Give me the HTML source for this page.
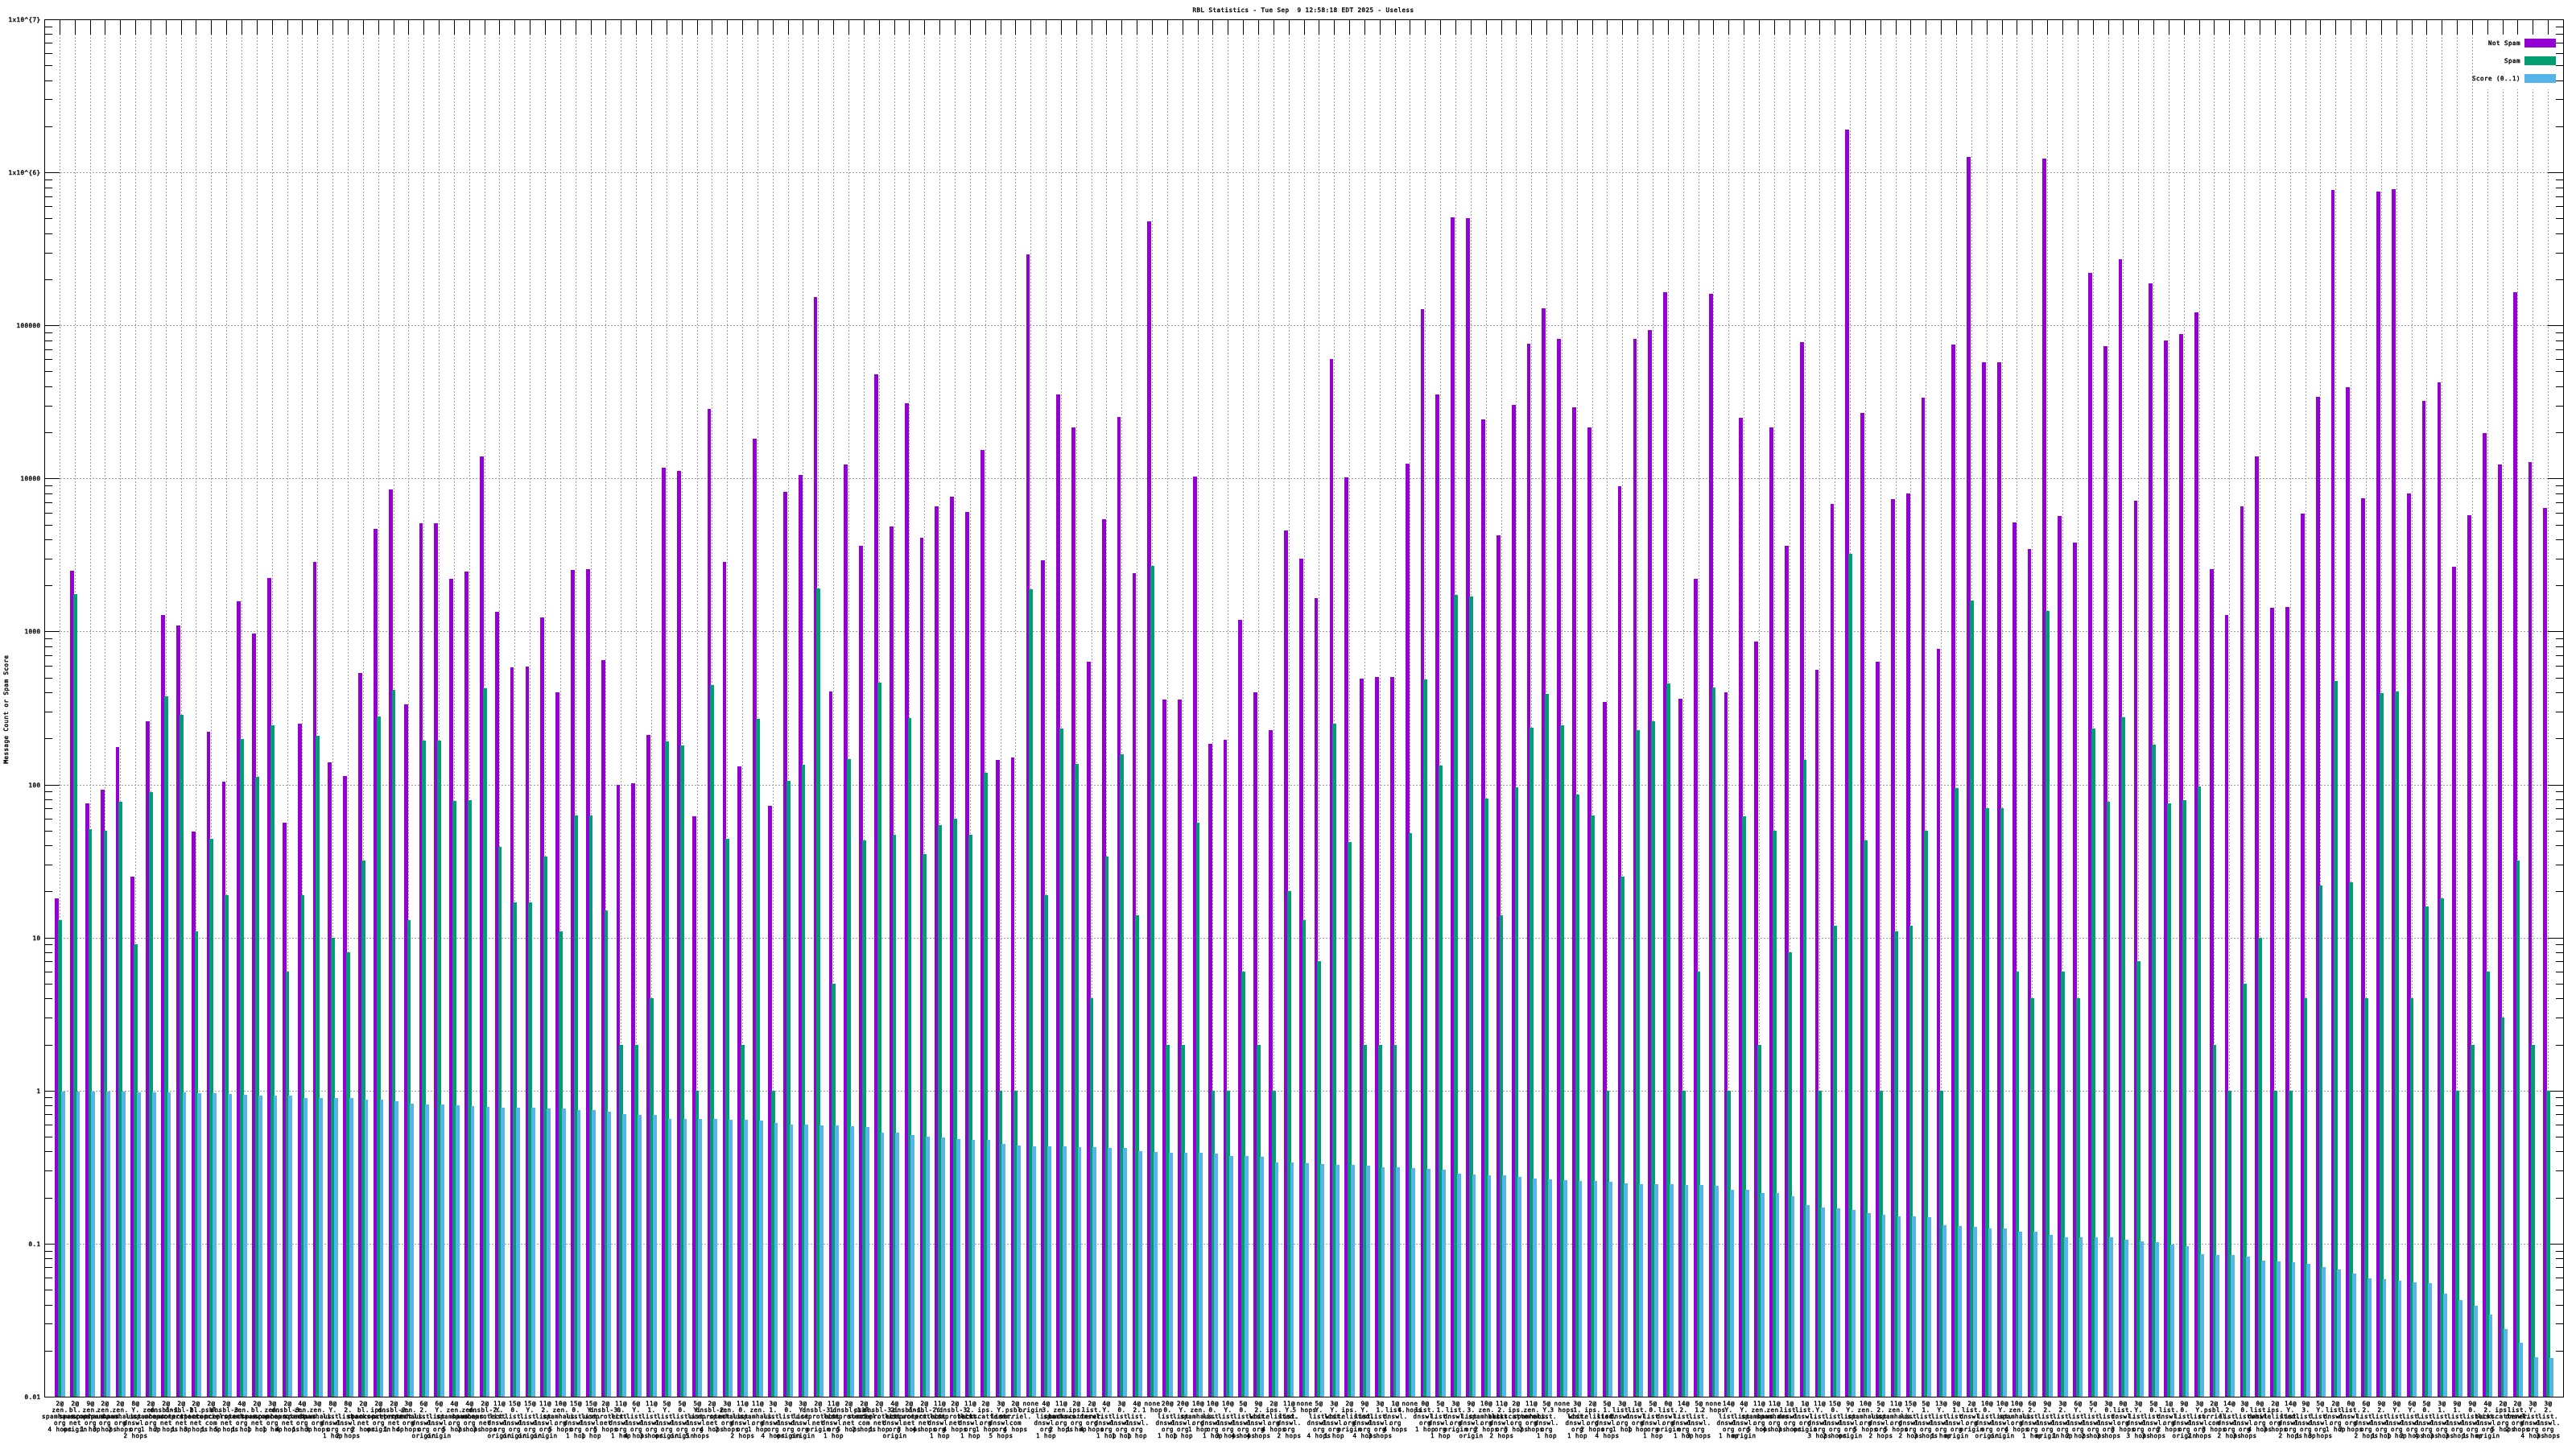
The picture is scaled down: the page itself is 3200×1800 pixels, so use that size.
<!DOCTYPE html><html><head><meta charset="utf-8"><title>RBL Statistics</title>
<style>html,body{margin:0;padding:0;background:#fff}svg{display:block;will-change:transform}text{font-family:"DejaVu Sans Mono","Liberation Mono",monospace;font-size:7.5px;letter-spacing:.485px;fill:#000;stroke:#000;stroke-width:.4px}.g{stroke:#a0a0a0;stroke-width:1;stroke-dasharray:2 2;fill:none}.t{stroke:#000;stroke-width:1;fill:none}</style></head><body>
<svg width="3200" height="1800" viewBox="0 0 3200 1800" shape-rendering="crispEdges">
<rect width="3200" height="1800" fill="#fff"/>
<path class="g" d="M74.5 1736 V43 M93.5 1736 V43 M112.5 1736 V43 M130.5 1736 V43 M149.5 1736 V43 M168.5 1736 V43 M187.5 1736 V43 M206.5 1736 V43 M225.5 1736 V43 M243.5 1736 V43 M262.5 1736 V43 M281.5 1736 V43 M300.5 1736 V43 M319.5 1736 V43 M338.5 1736 V43 M357.5 1736 V43 M375.5 1736 V43 M394.5 1736 V43 M413.5 1736 V43 M432.5 1736 V43 M451.5 1736 V43 M470.5 1736 V43 M489.5 1736 V43 M507.5 1736 V43 M526.5 1736 V43 M545.5 1736 V43 M564.5 1736 V43 M583.5 1736 V43 M602.5 1736 V43 M620.5 1736 V43 M639.5 1736 V43 M658.5 1736 V43 M677.5 1736 V43 M696.5 1736 V43 M715.5 1736 V43 M734.5 1736 V43 M752.5 1736 V43 M771.5 1736 V43 M790.5 1736 V43 M809.5 1736 V43 M828.5 1736 V43 M847.5 1736 V43 M866.5 1736 V43 M884.5 1736 V43 M903.5 1736 V43 M922.5 1736 V43 M941.5 1736 V43 M960.5 1736 V43 M979.5 1736 V43 M997.5 1736 V43 M1016.5 1736 V43 M1035.5 1736 V43 M1054.5 1736 V43 M1073.5 1736 V43 M1092.5 1736 V43 M1111.5 1736 V43 M1129.5 1736 V43 M1148.5 1736 V43 M1167.5 1736 V43 M1186.5 1736 V43 M1205.5 1736 V43 M1224.5 1736 V43 M1243.5 1736 V43 M1261.5 1736 V43 M1280.5 1736 V43 M1299.5 1736 V43 M1318.5 1736 V43 M1337.5 1736 V43 M1356.5 1736 V43 M1374.5 1736 V43 M1393.5 1736 V43 M1412.5 1736 V43 M1431.5 1736 V43 M1450.5 1736 V43 M1469.5 1736 V43 M1488.5 1736 V43 M1506.5 1736 V43 M1525.5 1736 V43 M1544.5 1736 V43 M1563.5 1736 V43 M1582.5 1736 V43 M1601.5 1736 V43 M1620.5 1736 V43 M1638.5 1736 V43 M1657.5 1736 V43 M1676.5 1736 V43 M1695.5 1736 V43 M1714.5 1736 V43 M1733.5 1736 V43 M1751.5 1736 V43 M1770.5 1736 V43 M1789.5 1736 V43 M1808.5 1736 V43 M1827.5 1736 V43 M1846.5 1736 V43 M1865.5 1736 V43 M1883.5 1736 V43 M1902.5 1736 V43 M1921.5 1736 V43 M1940.5 1736 V43 M1959.5 1736 V43 M1978.5 1736 V43 M1996.5 1736 V43 M2015.5 1736 V43 M2034.5 1736 V43 M2053.5 1736 V43 M2072.5 1736 V43 M2091.5 1736 V43 M2110.5 1736 V43 M2128.5 1736 V43 M2147.5 1736 V43 M2166.5 1736 V43 M2185.5 1736 V43 M2204.5 1736 V43 M2223.5 1736 V43 M2242.5 1736 V43 M2260.5 1736 V43 M2279.5 1736 V43 M2298.5 1736 V43 M2317.5 1736 V43 M2336.5 1736 V43 M2355.5 1736 V43 M2373.5 1736 V43 M2392.5 1736 V43 M2411.5 1736 V43 M2430.5 1736 V43 M2449.5 1736 V43 M2468.5 1736 V43 M2487.5 1736 V43 M2505.5 1736 V43 M2524.5 1736 V43 M2543.5 1736 V43 M2562.5 1736 V43 M2581.5 1736 V43 M2600.5 1736 V43 M2619.5 1736 V43 M2637.5 1736 V43 M2656.5 1736 V43 M2675.5 1736 V43 M2694.5 1736 V43 M2713.5 1736 V43 M2732.5 1736 V43 M2750.5 1736 V43 M2769.5 1736 V43 M2788.5 1736 V43 M2807.5 1736 V43 M2826.5 1736 V43 M2845.5 1736 V43 M2864.5 1736 V43 M2882.5 1736 V43 M2901.5 1736 V43 M2920.5 1736 V43 M2939.5 1736 V43 M2958.5 1736 V43 M2977.5 1736 V43 M2996.5 1736 V43 M3014.5 1736 V43 M3033.5 1736 V43 M3052.5 1736 V43 M3071.5 1736 V43 M3090.5 1736 V111 M3109.5 1736 V111 M3127.5 1736 V111 M3146.5 1736 V111 M3165.5 1736 V111"/>
<path class="g" d="M55 1545.5 H3184 M55 1355.5 H3184 M55 1165.5 H3184 M55 975.5 H3184 M55 784.5 H3184 M55 594.5 H3184 M55 404.5 H3184 M55 214.5 H3184"/>
<path class="t" d="M74.5 24 V43 M93.5 24 V43 M112.5 24 V43 M130.5 24 V43 M149.5 24 V43 M168.5 24 V43 M187.5 24 V43 M206.5 24 V43 M225.5 24 V43 M243.5 24 V43 M262.5 24 V43 M281.5 24 V43 M300.5 24 V43 M319.5 24 V43 M338.5 24 V43 M357.5 24 V43 M375.5 24 V43 M394.5 24 V43 M413.5 24 V43 M432.5 24 V43 M451.5 24 V43 M470.5 24 V43 M489.5 24 V43 M507.5 24 V43 M526.5 24 V43 M545.5 24 V43 M564.5 24 V43 M583.5 24 V43 M602.5 24 V43 M620.5 24 V43 M639.5 24 V43 M658.5 24 V43 M677.5 24 V43 M696.5 24 V43 M715.5 24 V43 M734.5 24 V43 M752.5 24 V43 M771.5 24 V43 M790.5 24 V43 M809.5 24 V43 M828.5 24 V43 M847.5 24 V43 M866.5 24 V43 M884.5 24 V43 M903.5 24 V43 M922.5 24 V43 M941.5 24 V43 M960.5 24 V43 M979.5 24 V43 M997.5 24 V43 M1016.5 24 V43 M1035.5 24 V43 M1054.5 24 V43 M1073.5 24 V43 M1092.5 24 V43 M1111.5 24 V43 M1129.5 24 V43 M1148.5 24 V43 M1167.5 24 V43 M1186.5 24 V43 M1205.5 24 V43 M1224.5 24 V43 M1243.5 24 V43 M1261.5 24 V43 M1280.5 24 V43 M1299.5 24 V43 M1318.5 24 V43 M1337.5 24 V43 M1356.5 24 V43 M1374.5 24 V43 M1393.5 24 V43 M1412.5 24 V43 M1431.5 24 V43 M1450.5 24 V43 M1469.5 24 V43 M1488.5 24 V43 M1506.5 24 V43 M1525.5 24 V43 M1544.5 24 V43 M1563.5 24 V43 M1582.5 24 V43 M1601.5 24 V43 M1620.5 24 V43 M1638.5 24 V43 M1657.5 24 V43 M1676.5 24 V43 M1695.5 24 V43 M1714.5 24 V43 M1733.5 24 V43 M1751.5 24 V43 M1770.5 24 V43 M1789.5 24 V43 M1808.5 24 V43 M1827.5 24 V43 M1846.5 24 V43 M1865.5 24 V43 M1883.5 24 V43 M1902.5 24 V43 M1921.5 24 V43 M1940.5 24 V43 M1959.5 24 V43 M1978.5 24 V43 M1996.5 24 V43 M2015.5 24 V43 M2034.5 24 V43 M2053.5 24 V43 M2072.5 24 V43 M2091.5 24 V43 M2110.5 24 V43 M2128.5 24 V43 M2147.5 24 V43 M2166.5 24 V43 M2185.5 24 V43 M2204.5 24 V43 M2223.5 24 V43 M2242.5 24 V43 M2260.5 24 V43 M2279.5 24 V43 M2298.5 24 V43 M2317.5 24 V43 M2336.5 24 V43 M2355.5 24 V43 M2373.5 24 V43 M2392.5 24 V43 M2411.5 24 V43 M2430.5 24 V43 M2449.5 24 V43 M2468.5 24 V43 M2487.5 24 V43 M2505.5 24 V43 M2524.5 24 V43 M2543.5 24 V43 M2562.5 24 V43 M2581.5 24 V43 M2600.5 24 V43 M2619.5 24 V43 M2637.5 24 V43 M2656.5 24 V43 M2675.5 24 V43 M2694.5 24 V43 M2713.5 24 V43 M2732.5 24 V43 M2750.5 24 V43 M2769.5 24 V43 M2788.5 24 V43 M2807.5 24 V43 M2826.5 24 V43 M2845.5 24 V43 M2864.5 24 V43 M2882.5 24 V43 M2901.5 24 V43 M2920.5 24 V43 M2939.5 24 V43 M2958.5 24 V43 M2977.5 24 V43 M2996.5 24 V43 M3014.5 24 V43 M3033.5 24 V43 M3052.5 24 V43 M3071.5 24 V43 M3090.5 24 V43 M3109.5 24 V43 M3127.5 24 V43 M3146.5 24 V43 M3165.5 24 V43 M55 1735.5 H74 M3185 1735.5 H3165 M55 1678.5 H65 M3185 1678.5 H3175 M55 1644.5 H65 M3185 1644.5 H3175 M55 1621.5 H65 M3185 1621.5 H3175 M55 1602.5 H65 M3185 1602.5 H3175 M55 1587.5 H65 M3185 1587.5 H3175 M55 1574.5 H65 M3185 1574.5 H3175 M55 1563.5 H65 M3185 1563.5 H3175 M55 1554.5 H65 M3185 1554.5 H3175 M55 1545.5 H74 M3185 1545.5 H3165 M55 1488.5 H65 M3185 1488.5 H3175 M55 1454.5 H65 M3185 1454.5 H3175 M55 1430.5 H65 M3185 1430.5 H3175 M55 1412.5 H65 M3185 1412.5 H3175 M55 1397.5 H65 M3185 1397.5 H3175 M55 1384.5 H65 M3185 1384.5 H3175 M55 1373.5 H65 M3185 1373.5 H3175 M55 1363.5 H65 M3185 1363.5 H3175 M55 1355.5 H74 M3185 1355.5 H3165 M55 1298.5 H65 M3185 1298.5 H3175 M55 1264.5 H65 M3185 1264.5 H3175 M55 1240.5 H65 M3185 1240.5 H3175 M55 1222.5 H65 M3185 1222.5 H3175 M55 1207.5 H65 M3185 1207.5 H3175 M55 1194.5 H65 M3185 1194.5 H3175 M55 1183.5 H65 M3185 1183.5 H3175 M55 1173.5 H65 M3185 1173.5 H3175 M55 1165.5 H74 M3185 1165.5 H3165 M55 1107.5 H65 M3185 1107.5 H3175 M55 1074.5 H65 M3185 1074.5 H3175 M55 1050.5 H65 M3185 1050.5 H3175 M55 1032.5 H65 M3185 1032.5 H3175 M55 1017.5 H65 M3185 1017.5 H3175 M55 1004.5 H65 M3185 1004.5 H3175 M55 993.5 H65 M3185 993.5 H3175 M55 983.5 H65 M3185 983.5 H3175 M55 975.5 H74 M3185 975.5 H3165 M55 917.5 H65 M3185 917.5 H3175 M55 884.5 H65 M3185 884.5 H3175 M55 860.5 H65 M3185 860.5 H3175 M55 842.5 H65 M3185 842.5 H3175 M55 827.5 H65 M3185 827.5 H3175 M55 814.5 H65 M3185 814.5 H3175 M55 803.5 H65 M3185 803.5 H3175 M55 793.5 H65 M3185 793.5 H3175 M55 784.5 H74 M3185 784.5 H3165 M55 727.5 H65 M3185 727.5 H3175 M55 694.5 H65 M3185 694.5 H3175 M55 670.5 H65 M3185 670.5 H3175 M55 652.5 H65 M3185 652.5 H3175 M55 637.5 H65 M3185 637.5 H3175 M55 624.5 H65 M3185 624.5 H3175 M55 613.5 H65 M3185 613.5 H3175 M55 603.5 H65 M3185 603.5 H3175 M55 594.5 H74 M3185 594.5 H3165 M55 537.5 H65 M3185 537.5 H3175 M55 504.5 H65 M3185 504.5 H3175 M55 480.5 H65 M3185 480.5 H3175 M55 461.5 H65 M3185 461.5 H3175 M55 446.5 H65 M3185 446.5 H3175 M55 434.5 H65 M3185 434.5 H3175 M55 423.5 H65 M3185 423.5 H3175 M55 413.5 H65 M3185 413.5 H3175 M55 404.5 H74 M3185 404.5 H3165 M55 347.5 H65 M3185 347.5 H3175 M55 314.5 H65 M3185 314.5 H3175 M55 290.5 H65 M3185 290.5 H3175 M55 271.5 H65 M3185 271.5 H3175 M55 256.5 H65 M3185 256.5 H3175 M55 244.5 H65 M3185 244.5 H3175 M55 233.5 H65 M3185 233.5 H3175 M55 223.5 H65 M3185 223.5 H3175 M55 214.5 H74 M3185 214.5 H3165 M55 157.5 H65 M3185 157.5 H3175 M55 123.5 H65 M3185 123.5 H3175 M55 100.5 H65 M3185 100.5 H3175 M55 81.5 H65 M3185 81.5 H3175 M55 66.5 H65 M3185 66.5 H3175 M55 53.5 H65 M3185 53.5 H3175 M55 42.5 H65 M3185 42.5 H3175 M55 33.5 H65 M3185 33.5 H3175 M55 24.5 H74 M3185 24.5 H3165"/>
<rect x="68" y="1116" width="5" height="620" fill="#9400d3"/><rect x="72" y="1143" width="5" height="593" fill="#009e73"/><rect x="76" y="1356" width="5" height="380" fill="#56b4e9"/><rect x="87" y="709" width="5" height="1027" fill="#9400d3"/><rect x="91" y="738" width="5" height="998" fill="#009e73"/><rect x="95" y="1356" width="4" height="380" fill="#56b4e9"/><rect x="106" y="998" width="5" height="738" fill="#9400d3"/><rect x="110" y="1030" width="4" height="706" fill="#009e73"/><rect x="113" y="1356" width="5" height="380" fill="#56b4e9"/><rect x="125" y="981" width="5" height="755" fill="#9400d3"/><rect x="129" y="1032" width="4" height="704" fill="#009e73"/><rect x="132" y="1356" width="5" height="380" fill="#56b4e9"/><rect x="144" y="928" width="4" height="808" fill="#9400d3"/><rect x="147" y="996" width="5" height="740" fill="#009e73"/><rect x="151" y="1356" width="5" height="380" fill="#56b4e9"/><rect x="162" y="1089" width="5" height="647" fill="#9400d3"/><rect x="166" y="1173" width="5" height="563" fill="#009e73"/><rect x="170" y="1357" width="5" height="379" fill="#56b4e9"/><rect x="181" y="896" width="5" height="840" fill="#9400d3"/><rect x="185" y="984" width="5" height="752" fill="#009e73"/><rect x="189" y="1357" width="5" height="379" fill="#56b4e9"/><rect x="200" y="764" width="5" height="972" fill="#9400d3"/><rect x="204" y="865" width="5" height="871" fill="#009e73"/><rect x="208" y="1357" width="4" height="379" fill="#56b4e9"/><rect x="219" y="777" width="5" height="959" fill="#9400d3"/><rect x="223" y="888" width="5" height="848" fill="#009e73"/><rect x="227" y="1357" width="4" height="379" fill="#56b4e9"/><rect x="238" y="1033" width="5" height="703" fill="#9400d3"/><rect x="242" y="1157" width="4" height="579" fill="#009e73"/><rect x="245" y="1358" width="5" height="378" fill="#56b4e9"/><rect x="257" y="909" width="4" height="827" fill="#9400d3"/><rect x="260" y="1042" width="5" height="694" fill="#009e73"/><rect x="264" y="1358" width="5" height="378" fill="#56b4e9"/><rect x="276" y="971" width="4" height="765" fill="#9400d3"/><rect x="279" y="1112" width="5" height="624" fill="#009e73"/><rect x="283" y="1359" width="5" height="377" fill="#56b4e9"/><rect x="294" y="747" width="5" height="989" fill="#9400d3"/><rect x="298" y="918" width="5" height="818" fill="#009e73"/><rect x="302" y="1360" width="5" height="376" fill="#56b4e9"/><rect x="313" y="787" width="5" height="949" fill="#9400d3"/><rect x="317" y="965" width="5" height="771" fill="#009e73"/><rect x="321" y="1361" width="5" height="375" fill="#56b4e9"/><rect x="332" y="718" width="5" height="1018" fill="#9400d3"/><rect x="336" y="901" width="5" height="835" fill="#009e73"/><rect x="340" y="1361" width="4" height="375" fill="#56b4e9"/><rect x="351" y="1022" width="5" height="714" fill="#9400d3"/><rect x="355" y="1207" width="4" height="529" fill="#009e73"/><rect x="358" y="1361" width="5" height="375" fill="#56b4e9"/><rect x="370" y="899" width="5" height="837" fill="#9400d3"/><rect x="374" y="1112" width="4" height="624" fill="#009e73"/><rect x="377" y="1364" width="5" height="372" fill="#56b4e9"/><rect x="389" y="698" width="4" height="1038" fill="#9400d3"/><rect x="392" y="914" width="5" height="822" fill="#009e73"/><rect x="396" y="1364" width="5" height="372" fill="#56b4e9"/><rect x="407" y="947" width="5" height="789" fill="#9400d3"/><rect x="411" y="1165" width="5" height="571" fill="#009e73"/><rect x="415" y="1364" width="5" height="372" fill="#56b4e9"/><rect x="426" y="964" width="5" height="772" fill="#9400d3"/><rect x="430" y="1183" width="5" height="553" fill="#009e73"/><rect x="434" y="1364" width="5" height="372" fill="#56b4e9"/><rect x="445" y="836" width="5" height="900" fill="#9400d3"/><rect x="449" y="1069" width="5" height="667" fill="#009e73"/><rect x="453" y="1366" width="4" height="370" fill="#56b4e9"/><rect x="464" y="657" width="5" height="1079" fill="#9400d3"/><rect x="468" y="890" width="5" height="846" fill="#009e73"/><rect x="472" y="1366" width="4" height="370" fill="#56b4e9"/><rect x="483" y="608" width="5" height="1128" fill="#9400d3"/><rect x="487" y="857" width="4" height="879" fill="#009e73"/><rect x="490" y="1368" width="5" height="368" fill="#56b4e9"/><rect x="502" y="875" width="5" height="861" fill="#9400d3"/><rect x="506" y="1143" width="4" height="593" fill="#009e73"/><rect x="509" y="1371" width="5" height="365" fill="#56b4e9"/><rect x="521" y="650" width="4" height="1086" fill="#9400d3"/><rect x="524" y="920" width="5" height="816" fill="#009e73"/><rect x="528" y="1372" width="5" height="364" fill="#56b4e9"/><rect x="539" y="650" width="5" height="1086" fill="#9400d3"/><rect x="543" y="920" width="5" height="816" fill="#009e73"/><rect x="547" y="1372" width="5" height="364" fill="#56b4e9"/><rect x="558" y="719" width="5" height="1017" fill="#9400d3"/><rect x="562" y="995" width="5" height="741" fill="#009e73"/><rect x="566" y="1373" width="5" height="363" fill="#56b4e9"/><rect x="577" y="710" width="5" height="1026" fill="#9400d3"/><rect x="581" y="994" width="5" height="742" fill="#009e73"/><rect x="585" y="1374" width="4" height="362" fill="#56b4e9"/><rect x="596" y="567" width="5" height="1169" fill="#9400d3"/><rect x="600" y="855" width="5" height="881" fill="#009e73"/><rect x="604" y="1375" width="4" height="361" fill="#56b4e9"/><rect x="615" y="760" width="5" height="976" fill="#9400d3"/><rect x="619" y="1052" width="4" height="684" fill="#009e73"/><rect x="622" y="1376" width="5" height="360" fill="#56b4e9"/><rect x="634" y="829" width="4" height="907" fill="#9400d3"/><rect x="637" y="1121" width="5" height="615" fill="#009e73"/><rect x="641" y="1376" width="5" height="360" fill="#56b4e9"/><rect x="653" y="828" width="4" height="908" fill="#9400d3"/><rect x="656" y="1121" width="5" height="615" fill="#009e73"/><rect x="660" y="1376" width="5" height="360" fill="#56b4e9"/><rect x="671" y="767" width="5" height="969" fill="#9400d3"/><rect x="675" y="1064" width="5" height="672" fill="#009e73"/><rect x="679" y="1377" width="5" height="359" fill="#56b4e9"/><rect x="690" y="860" width="5" height="876" fill="#9400d3"/><rect x="694" y="1157" width="5" height="579" fill="#009e73"/><rect x="698" y="1377" width="5" height="359" fill="#56b4e9"/><rect x="709" y="708" width="5" height="1028" fill="#9400d3"/><rect x="713" y="1013" width="5" height="723" fill="#009e73"/><rect x="717" y="1379" width="4" height="357" fill="#56b4e9"/><rect x="728" y="707" width="5" height="1029" fill="#9400d3"/><rect x="732" y="1013" width="4" height="723" fill="#009e73"/><rect x="735" y="1379" width="5" height="357" fill="#56b4e9"/><rect x="747" y="820" width="5" height="916" fill="#9400d3"/><rect x="751" y="1131" width="4" height="605" fill="#009e73"/><rect x="754" y="1381" width="5" height="355" fill="#56b4e9"/><rect x="766" y="975" width="4" height="761" fill="#9400d3"/><rect x="769" y="1298" width="5" height="438" fill="#009e73"/><rect x="773" y="1384" width="5" height="352" fill="#56b4e9"/><rect x="784" y="973" width="5" height="763" fill="#9400d3"/><rect x="788" y="1298" width="5" height="438" fill="#009e73"/><rect x="792" y="1385" width="5" height="351" fill="#56b4e9"/><rect x="803" y="913" width="5" height="823" fill="#9400d3"/><rect x="807" y="1240" width="5" height="496" fill="#009e73"/><rect x="811" y="1385" width="5" height="351" fill="#56b4e9"/><rect x="822" y="581" width="5" height="1155" fill="#9400d3"/><rect x="826" y="921" width="5" height="815" fill="#009e73"/><rect x="830" y="1390" width="4" height="346" fill="#56b4e9"/><rect x="841" y="585" width="5" height="1151" fill="#9400d3"/><rect x="845" y="926" width="5" height="810" fill="#009e73"/><rect x="849" y="1390" width="4" height="346" fill="#56b4e9"/><rect x="860" y="1014" width="5" height="722" fill="#9400d3"/><rect x="864" y="1355" width="4" height="381" fill="#009e73"/><rect x="867" y="1390" width="5" height="346" fill="#56b4e9"/><rect x="879" y="508" width="4" height="1228" fill="#9400d3"/><rect x="882" y="851" width="5" height="885" fill="#009e73"/><rect x="886" y="1390" width="5" height="346" fill="#56b4e9"/><rect x="898" y="698" width="4" height="1038" fill="#9400d3"/><rect x="901" y="1042" width="5" height="694" fill="#009e73"/><rect x="905" y="1391" width="5" height="345" fill="#56b4e9"/><rect x="916" y="952" width="5" height="784" fill="#9400d3"/><rect x="920" y="1298" width="5" height="438" fill="#009e73"/><rect x="924" y="1391" width="5" height="345" fill="#56b4e9"/><rect x="935" y="545" width="5" height="1191" fill="#9400d3"/><rect x="939" y="893" width="5" height="843" fill="#009e73"/><rect x="943" y="1392" width="5" height="344" fill="#56b4e9"/><rect x="954" y="1001" width="5" height="735" fill="#9400d3"/><rect x="958" y="1355" width="5" height="381" fill="#009e73"/><rect x="962" y="1395" width="4" height="341" fill="#56b4e9"/><rect x="973" y="611" width="5" height="1125" fill="#9400d3"/><rect x="977" y="970" width="5" height="766" fill="#009e73"/><rect x="981" y="1397" width="4" height="339" fill="#56b4e9"/><rect x="992" y="590" width="5" height="1146" fill="#9400d3"/><rect x="996" y="950" width="4" height="786" fill="#009e73"/><rect x="999" y="1397" width="5" height="339" fill="#56b4e9"/><rect x="1011" y="369" width="4" height="1367" fill="#9400d3"/><rect x="1014" y="731" width="5" height="1005" fill="#009e73"/><rect x="1018" y="1398" width="5" height="338" fill="#56b4e9"/><rect x="1030" y="859" width="4" height="877" fill="#9400d3"/><rect x="1033" y="1222" width="5" height="514" fill="#009e73"/><rect x="1037" y="1398" width="5" height="338" fill="#56b4e9"/><rect x="1048" y="577" width="5" height="1159" fill="#9400d3"/><rect x="1052" y="943" width="5" height="793" fill="#009e73"/><rect x="1056" y="1399" width="5" height="337" fill="#56b4e9"/><rect x="1067" y="678" width="5" height="1058" fill="#9400d3"/><rect x="1071" y="1044" width="5" height="692" fill="#009e73"/><rect x="1075" y="1400" width="5" height="336" fill="#56b4e9"/><rect x="1086" y="465" width="5" height="1271" fill="#9400d3"/><rect x="1090" y="848" width="5" height="888" fill="#009e73"/><rect x="1094" y="1407" width="4" height="329" fill="#56b4e9"/><rect x="1105" y="654" width="5" height="1082" fill="#9400d3"/><rect x="1109" y="1037" width="4" height="699" fill="#009e73"/><rect x="1112" y="1407" width="5" height="329" fill="#56b4e9"/><rect x="1124" y="501" width="5" height="1235" fill="#9400d3"/><rect x="1128" y="892" width="4" height="844" fill="#009e73"/><rect x="1131" y="1410" width="5" height="326" fill="#56b4e9"/><rect x="1143" y="668" width="4" height="1068" fill="#9400d3"/><rect x="1146" y="1061" width="5" height="675" fill="#009e73"/><rect x="1150" y="1412" width="5" height="324" fill="#56b4e9"/><rect x="1161" y="629" width="5" height="1107" fill="#9400d3"/><rect x="1165" y="1025" width="5" height="711" fill="#009e73"/><rect x="1169" y="1413" width="5" height="323" fill="#56b4e9"/><rect x="1180" y="617" width="5" height="1119" fill="#9400d3"/><rect x="1184" y="1017" width="5" height="719" fill="#009e73"/><rect x="1188" y="1415" width="5" height="321" fill="#56b4e9"/><rect x="1199" y="636" width="5" height="1100" fill="#9400d3"/><rect x="1203" y="1037" width="5" height="699" fill="#009e73"/><rect x="1207" y="1416" width="4" height="320" fill="#56b4e9"/><rect x="1218" y="559" width="5" height="1177" fill="#9400d3"/><rect x="1222" y="960" width="5" height="776" fill="#009e73"/><rect x="1226" y="1416" width="4" height="320" fill="#56b4e9"/><rect x="1237" y="944" width="5" height="792" fill="#9400d3"/><rect x="1241" y="1355" width="4" height="381" fill="#009e73"/><rect x="1244" y="1421" width="5" height="315" fill="#56b4e9"/><rect x="1256" y="941" width="4" height="795" fill="#9400d3"/><rect x="1259" y="1355" width="5" height="381" fill="#009e73"/><rect x="1263" y="1423" width="5" height="313" fill="#56b4e9"/><rect x="1275" y="316" width="4" height="1420" fill="#9400d3"/><rect x="1278" y="732" width="5" height="1004" fill="#009e73"/><rect x="1282" y="1424" width="5" height="312" fill="#56b4e9"/><rect x="1293" y="696" width="5" height="1040" fill="#9400d3"/><rect x="1297" y="1112" width="5" height="624" fill="#009e73"/><rect x="1301" y="1424" width="5" height="312" fill="#56b4e9"/><rect x="1312" y="490" width="5" height="1246" fill="#9400d3"/><rect x="1316" y="905" width="5" height="831" fill="#009e73"/><rect x="1320" y="1424" width="5" height="312" fill="#56b4e9"/><rect x="1331" y="531" width="5" height="1205" fill="#9400d3"/><rect x="1335" y="949" width="5" height="787" fill="#009e73"/><rect x="1339" y="1425" width="4" height="311" fill="#56b4e9"/><rect x="1350" y="822" width="5" height="914" fill="#9400d3"/><rect x="1354" y="1240" width="4" height="496" fill="#009e73"/><rect x="1357" y="1425" width="5" height="311" fill="#56b4e9"/><rect x="1369" y="645" width="5" height="1091" fill="#9400d3"/><rect x="1373" y="1064" width="4" height="672" fill="#009e73"/><rect x="1376" y="1426" width="5" height="310" fill="#56b4e9"/><rect x="1388" y="518" width="4" height="1218" fill="#9400d3"/><rect x="1391" y="937" width="5" height="799" fill="#009e73"/><rect x="1395" y="1426" width="5" height="310" fill="#56b4e9"/><rect x="1407" y="712" width="4" height="1024" fill="#9400d3"/><rect x="1410" y="1137" width="5" height="599" fill="#009e73"/><rect x="1414" y="1430" width="5" height="306" fill="#56b4e9"/><rect x="1425" y="275" width="5" height="1461" fill="#9400d3"/><rect x="1429" y="703" width="5" height="1033" fill="#009e73"/><rect x="1433" y="1431" width="5" height="305" fill="#56b4e9"/><rect x="1444" y="869" width="5" height="867" fill="#9400d3"/><rect x="1448" y="1298" width="5" height="438" fill="#009e73"/><rect x="1452" y="1432" width="5" height="304" fill="#56b4e9"/><rect x="1463" y="869" width="5" height="867" fill="#9400d3"/><rect x="1467" y="1298" width="5" height="438" fill="#009e73"/><rect x="1471" y="1432" width="4" height="304" fill="#56b4e9"/><rect x="1482" y="592" width="5" height="1144" fill="#9400d3"/><rect x="1486" y="1022" width="4" height="714" fill="#009e73"/><rect x="1489" y="1432" width="5" height="304" fill="#56b4e9"/><rect x="1501" y="924" width="5" height="812" fill="#9400d3"/><rect x="1505" y="1355" width="4" height="381" fill="#009e73"/><rect x="1508" y="1433" width="5" height="303" fill="#56b4e9"/><rect x="1520" y="919" width="4" height="817" fill="#9400d3"/><rect x="1523" y="1355" width="5" height="381" fill="#009e73"/><rect x="1527" y="1436" width="5" height="300" fill="#56b4e9"/><rect x="1538" y="770" width="5" height="966" fill="#9400d3"/><rect x="1542" y="1207" width="5" height="529" fill="#009e73"/><rect x="1546" y="1436" width="5" height="300" fill="#56b4e9"/><rect x="1557" y="860" width="5" height="876" fill="#9400d3"/><rect x="1561" y="1298" width="5" height="438" fill="#009e73"/><rect x="1565" y="1437" width="5" height="299" fill="#56b4e9"/><rect x="1576" y="907" width="5" height="829" fill="#9400d3"/><rect x="1580" y="1355" width="5" height="381" fill="#009e73"/><rect x="1584" y="1444" width="4" height="292" fill="#56b4e9"/><rect x="1595" y="659" width="5" height="1077" fill="#9400d3"/><rect x="1599" y="1107" width="5" height="629" fill="#009e73"/><rect x="1603" y="1444" width="4" height="292" fill="#56b4e9"/><rect x="1614" y="694" width="5" height="1042" fill="#9400d3"/><rect x="1618" y="1143" width="4" height="593" fill="#009e73"/><rect x="1621" y="1445" width="5" height="291" fill="#56b4e9"/><rect x="1633" y="743" width="4" height="993" fill="#9400d3"/><rect x="1636" y="1194" width="5" height="542" fill="#009e73"/><rect x="1640" y="1446" width="5" height="290" fill="#56b4e9"/><rect x="1652" y="446" width="4" height="1290" fill="#9400d3"/><rect x="1655" y="899" width="5" height="837" fill="#009e73"/><rect x="1659" y="1447" width="5" height="289" fill="#56b4e9"/><rect x="1670" y="593" width="5" height="1143" fill="#9400d3"/><rect x="1674" y="1046" width="5" height="690" fill="#009e73"/><rect x="1678" y="1447" width="5" height="289" fill="#56b4e9"/><rect x="1689" y="843" width="5" height="893" fill="#9400d3"/><rect x="1693" y="1298" width="5" height="438" fill="#009e73"/><rect x="1697" y="1448" width="5" height="288" fill="#56b4e9"/><rect x="1708" y="841" width="5" height="895" fill="#9400d3"/><rect x="1712" y="1298" width="5" height="438" fill="#009e73"/><rect x="1716" y="1450" width="4" height="286" fill="#56b4e9"/><rect x="1727" y="841" width="5" height="895" fill="#9400d3"/><rect x="1731" y="1298" width="4" height="438" fill="#009e73"/><rect x="1734" y="1450" width="5" height="286" fill="#56b4e9"/><rect x="1746" y="576" width="5" height="1160" fill="#9400d3"/><rect x="1750" y="1035" width="4" height="701" fill="#009e73"/><rect x="1753" y="1451" width="5" height="285" fill="#56b4e9"/><rect x="1765" y="384" width="4" height="1352" fill="#9400d3"/><rect x="1768" y="844" width="5" height="892" fill="#009e73"/><rect x="1772" y="1452" width="5" height="284" fill="#56b4e9"/><rect x="1783" y="490" width="5" height="1246" fill="#9400d3"/><rect x="1787" y="951" width="5" height="785" fill="#009e73"/><rect x="1791" y="1453" width="5" height="283" fill="#56b4e9"/><rect x="1802" y="270" width="5" height="1466" fill="#9400d3"/><rect x="1806" y="739" width="5" height="997" fill="#009e73"/><rect x="1810" y="1458" width="5" height="278" fill="#56b4e9"/><rect x="1821" y="271" width="5" height="1465" fill="#9400d3"/><rect x="1825" y="741" width="5" height="995" fill="#009e73"/><rect x="1829" y="1459" width="4" height="277" fill="#56b4e9"/><rect x="1840" y="521" width="5" height="1215" fill="#9400d3"/><rect x="1844" y="992" width="5" height="744" fill="#009e73"/><rect x="1848" y="1460" width="4" height="276" fill="#56b4e9"/><rect x="1859" y="665" width="5" height="1071" fill="#9400d3"/><rect x="1863" y="1137" width="4" height="599" fill="#009e73"/><rect x="1866" y="1460" width="5" height="276" fill="#56b4e9"/><rect x="1878" y="503" width="5" height="1233" fill="#9400d3"/><rect x="1882" y="978" width="4" height="758" fill="#009e73"/><rect x="1885" y="1462" width="5" height="274" fill="#56b4e9"/><rect x="1897" y="427" width="4" height="1309" fill="#9400d3"/><rect x="1900" y="904" width="5" height="832" fill="#009e73"/><rect x="1904" y="1464" width="5" height="272" fill="#56b4e9"/><rect x="1915" y="383" width="5" height="1353" fill="#9400d3"/><rect x="1919" y="862" width="5" height="874" fill="#009e73"/><rect x="1923" y="1465" width="5" height="271" fill="#56b4e9"/><rect x="1934" y="421" width="5" height="1315" fill="#9400d3"/><rect x="1938" y="901" width="5" height="835" fill="#009e73"/><rect x="1942" y="1466" width="5" height="270" fill="#56b4e9"/><rect x="1953" y="506" width="5" height="1230" fill="#9400d3"/><rect x="1957" y="987" width="5" height="749" fill="#009e73"/><rect x="1961" y="1467" width="4" height="269" fill="#56b4e9"/><rect x="1972" y="531" width="5" height="1205" fill="#9400d3"/><rect x="1976" y="1013" width="5" height="723" fill="#009e73"/><rect x="1980" y="1467" width="4" height="269" fill="#56b4e9"/><rect x="1991" y="872" width="5" height="864" fill="#9400d3"/><rect x="1995" y="1355" width="4" height="381" fill="#009e73"/><rect x="1998" y="1468" width="5" height="268" fill="#56b4e9"/><rect x="2010" y="604" width="4" height="1132" fill="#9400d3"/><rect x="2013" y="1089" width="5" height="647" fill="#009e73"/><rect x="2017" y="1470" width="5" height="266" fill="#56b4e9"/><rect x="2029" y="421" width="4" height="1315" fill="#9400d3"/><rect x="2032" y="907" width="5" height="829" fill="#009e73"/><rect x="2036" y="1471" width="5" height="265" fill="#56b4e9"/><rect x="2047" y="410" width="5" height="1326" fill="#9400d3"/><rect x="2051" y="896" width="5" height="840" fill="#009e73"/><rect x="2055" y="1471" width="5" height="265" fill="#56b4e9"/><rect x="2066" y="363" width="5" height="1373" fill="#9400d3"/><rect x="2070" y="849" width="5" height="887" fill="#009e73"/><rect x="2074" y="1471" width="5" height="265" fill="#56b4e9"/><rect x="2085" y="868" width="5" height="868" fill="#9400d3"/><rect x="2089" y="1355" width="5" height="381" fill="#009e73"/><rect x="2093" y="1472" width="4" height="264" fill="#56b4e9"/><rect x="2104" y="719" width="5" height="1017" fill="#9400d3"/><rect x="2108" y="1207" width="4" height="529" fill="#009e73"/><rect x="2111" y="1472" width="5" height="264" fill="#56b4e9"/><rect x="2123" y="365" width="5" height="1371" fill="#9400d3"/><rect x="2127" y="854" width="4" height="882" fill="#009e73"/><rect x="2130" y="1473" width="5" height="263" fill="#56b4e9"/><rect x="2142" y="860" width="4" height="876" fill="#9400d3"/><rect x="2145" y="1355" width="5" height="381" fill="#009e73"/><rect x="2149" y="1478" width="5" height="258" fill="#56b4e9"/><rect x="2160" y="519" width="5" height="1217" fill="#9400d3"/><rect x="2164" y="1014" width="5" height="722" fill="#009e73"/><rect x="2168" y="1478" width="5" height="258" fill="#56b4e9"/><rect x="2179" y="797" width="5" height="939" fill="#9400d3"/><rect x="2183" y="1298" width="5" height="438" fill="#009e73"/><rect x="2187" y="1482" width="5" height="254" fill="#56b4e9"/><rect x="2198" y="531" width="5" height="1205" fill="#9400d3"/><rect x="2202" y="1032" width="5" height="704" fill="#009e73"/><rect x="2206" y="1482" width="4" height="254" fill="#56b4e9"/><rect x="2217" y="678" width="5" height="1058" fill="#9400d3"/><rect x="2221" y="1183" width="5" height="553" fill="#009e73"/><rect x="2225" y="1486" width="4" height="250" fill="#56b4e9"/><rect x="2236" y="425" width="5" height="1311" fill="#9400d3"/><rect x="2240" y="944" width="4" height="792" fill="#009e73"/><rect x="2243" y="1497" width="5" height="239" fill="#56b4e9"/><rect x="2255" y="832" width="4" height="904" fill="#9400d3"/><rect x="2258" y="1355" width="5" height="381" fill="#009e73"/><rect x="2262" y="1500" width="5" height="236" fill="#56b4e9"/><rect x="2274" y="626" width="4" height="1110" fill="#9400d3"/><rect x="2277" y="1150" width="5" height="586" fill="#009e73"/><rect x="2281" y="1501" width="5" height="235" fill="#56b4e9"/><rect x="2292" y="161" width="5" height="1575" fill="#9400d3"/><rect x="2296" y="688" width="5" height="1048" fill="#009e73"/><rect x="2300" y="1503" width="5" height="233" fill="#56b4e9"/><rect x="2311" y="513" width="5" height="1223" fill="#9400d3"/><rect x="2315" y="1044" width="5" height="692" fill="#009e73"/><rect x="2319" y="1507" width="5" height="229" fill="#56b4e9"/><rect x="2330" y="822" width="5" height="914" fill="#9400d3"/><rect x="2334" y="1355" width="5" height="381" fill="#009e73"/><rect x="2338" y="1509" width="4" height="227" fill="#56b4e9"/><rect x="2349" y="620" width="5" height="1116" fill="#9400d3"/><rect x="2353" y="1157" width="5" height="579" fill="#009e73"/><rect x="2357" y="1511" width="4" height="225" fill="#56b4e9"/><rect x="2368" y="613" width="5" height="1123" fill="#9400d3"/><rect x="2372" y="1150" width="4" height="586" fill="#009e73"/><rect x="2375" y="1511" width="5" height="225" fill="#56b4e9"/><rect x="2387" y="494" width="4" height="1242" fill="#9400d3"/><rect x="2390" y="1032" width="5" height="704" fill="#009e73"/><rect x="2394" y="1512" width="5" height="224" fill="#56b4e9"/><rect x="2406" y="806" width="4" height="930" fill="#9400d3"/><rect x="2409" y="1355" width="5" height="381" fill="#009e73"/><rect x="2413" y="1522" width="5" height="214" fill="#56b4e9"/><rect x="2424" y="428" width="5" height="1308" fill="#9400d3"/><rect x="2428" y="979" width="5" height="757" fill="#009e73"/><rect x="2432" y="1523" width="5" height="213" fill="#56b4e9"/><rect x="2443" y="195" width="5" height="1541" fill="#9400d3"/><rect x="2447" y="746" width="5" height="990" fill="#009e73"/><rect x="2451" y="1524" width="5" height="212" fill="#56b4e9"/><rect x="2462" y="450" width="5" height="1286" fill="#9400d3"/><rect x="2466" y="1004" width="5" height="732" fill="#009e73"/><rect x="2470" y="1526" width="4" height="210" fill="#56b4e9"/><rect x="2481" y="450" width="5" height="1286" fill="#9400d3"/><rect x="2485" y="1004" width="4" height="732" fill="#009e73"/><rect x="2488" y="1526" width="5" height="210" fill="#56b4e9"/><rect x="2500" y="649" width="5" height="1087" fill="#9400d3"/><rect x="2504" y="1207" width="4" height="529" fill="#009e73"/><rect x="2507" y="1530" width="5" height="206" fill="#56b4e9"/><rect x="2519" y="682" width="4" height="1054" fill="#9400d3"/><rect x="2522" y="1240" width="5" height="496" fill="#009e73"/><rect x="2526" y="1530" width="5" height="206" fill="#56b4e9"/><rect x="2537" y="197" width="5" height="1539" fill="#9400d3"/><rect x="2541" y="759" width="5" height="977" fill="#009e73"/><rect x="2545" y="1534" width="5" height="202" fill="#56b4e9"/><rect x="2556" y="641" width="5" height="1095" fill="#9400d3"/><rect x="2560" y="1207" width="5" height="529" fill="#009e73"/><rect x="2564" y="1537" width="5" height="199" fill="#56b4e9"/><rect x="2575" y="674" width="5" height="1062" fill="#9400d3"/><rect x="2579" y="1240" width="5" height="496" fill="#009e73"/><rect x="2583" y="1537" width="4" height="199" fill="#56b4e9"/><rect x="2594" y="339" width="5" height="1397" fill="#9400d3"/><rect x="2598" y="905" width="5" height="831" fill="#009e73"/><rect x="2602" y="1537" width="4" height="199" fill="#56b4e9"/><rect x="2613" y="430" width="5" height="1306" fill="#9400d3"/><rect x="2617" y="996" width="4" height="740" fill="#009e73"/><rect x="2620" y="1537" width="5" height="199" fill="#56b4e9"/><rect x="2632" y="322" width="4" height="1414" fill="#9400d3"/><rect x="2635" y="891" width="5" height="845" fill="#009e73"/><rect x="2639" y="1540" width="5" height="196" fill="#56b4e9"/><rect x="2651" y="622" width="4" height="1114" fill="#9400d3"/><rect x="2654" y="1194" width="5" height="542" fill="#009e73"/><rect x="2658" y="1542" width="5" height="194" fill="#56b4e9"/><rect x="2669" y="352" width="5" height="1384" fill="#9400d3"/><rect x="2673" y="925" width="5" height="811" fill="#009e73"/><rect x="2677" y="1543" width="5" height="193" fill="#56b4e9"/><rect x="2688" y="423" width="5" height="1313" fill="#9400d3"/><rect x="2692" y="998" width="5" height="738" fill="#009e73"/><rect x="2696" y="1546" width="5" height="190" fill="#56b4e9"/><rect x="2707" y="415" width="5" height="1321" fill="#9400d3"/><rect x="2711" y="994" width="5" height="742" fill="#009e73"/><rect x="2715" y="1548" width="4" height="188" fill="#56b4e9"/><rect x="2726" y="388" width="5" height="1348" fill="#9400d3"/><rect x="2730" y="977" width="4" height="759" fill="#009e73"/><rect x="2733" y="1558" width="5" height="178" fill="#56b4e9"/><rect x="2745" y="707" width="5" height="1029" fill="#9400d3"/><rect x="2749" y="1298" width="4" height="438" fill="#009e73"/><rect x="2752" y="1559" width="5" height="177" fill="#56b4e9"/><rect x="2764" y="764" width="4" height="972" fill="#9400d3"/><rect x="2767" y="1355" width="5" height="381" fill="#009e73"/><rect x="2771" y="1559" width="5" height="177" fill="#56b4e9"/><rect x="2783" y="629" width="4" height="1107" fill="#9400d3"/><rect x="2786" y="1222" width="5" height="514" fill="#009e73"/><rect x="2790" y="1561" width="5" height="175" fill="#56b4e9"/><rect x="2801" y="567" width="5" height="1169" fill="#9400d3"/><rect x="2805" y="1165" width="5" height="571" fill="#009e73"/><rect x="2809" y="1566" width="5" height="170" fill="#56b4e9"/><rect x="2820" y="755" width="5" height="981" fill="#9400d3"/><rect x="2824" y="1355" width="5" height="381" fill="#009e73"/><rect x="2828" y="1567" width="5" height="169" fill="#56b4e9"/><rect x="2839" y="754" width="5" height="982" fill="#9400d3"/><rect x="2843" y="1355" width="5" height="381" fill="#009e73"/><rect x="2847" y="1568" width="4" height="168" fill="#56b4e9"/><rect x="2858" y="638" width="5" height="1098" fill="#9400d3"/><rect x="2862" y="1240" width="4" height="496" fill="#009e73"/><rect x="2865" y="1570" width="5" height="166" fill="#56b4e9"/><rect x="2877" y="493" width="5" height="1243" fill="#9400d3"/><rect x="2881" y="1100" width="4" height="636" fill="#009e73"/><rect x="2884" y="1574" width="5" height="162" fill="#56b4e9"/><rect x="2896" y="236" width="4" height="1500" fill="#9400d3"/><rect x="2899" y="846" width="5" height="890" fill="#009e73"/><rect x="2903" y="1577" width="5" height="159" fill="#56b4e9"/><rect x="2914" y="481" width="5" height="1255" fill="#9400d3"/><rect x="2918" y="1096" width="5" height="640" fill="#009e73"/><rect x="2922" y="1582" width="5" height="154" fill="#56b4e9"/><rect x="2933" y="619" width="5" height="1117" fill="#9400d3"/><rect x="2937" y="1240" width="5" height="496" fill="#009e73"/><rect x="2941" y="1588" width="5" height="148" fill="#56b4e9"/><rect x="2952" y="238" width="5" height="1498" fill="#9400d3"/><rect x="2956" y="861" width="5" height="875" fill="#009e73"/><rect x="2960" y="1589" width="4" height="147" fill="#56b4e9"/><rect x="2971" y="235" width="5" height="1501" fill="#9400d3"/><rect x="2975" y="859" width="5" height="877" fill="#009e73"/><rect x="2979" y="1591" width="4" height="145" fill="#56b4e9"/><rect x="2990" y="613" width="5" height="1123" fill="#9400d3"/><rect x="2994" y="1240" width="4" height="496" fill="#009e73"/><rect x="2997" y="1593" width="5" height="143" fill="#56b4e9"/><rect x="3009" y="498" width="4" height="1238" fill="#9400d3"/><rect x="3012" y="1126" width="5" height="610" fill="#009e73"/><rect x="3016" y="1594" width="5" height="142" fill="#56b4e9"/><rect x="3028" y="475" width="4" height="1261" fill="#9400d3"/><rect x="3031" y="1116" width="5" height="620" fill="#009e73"/><rect x="3035" y="1607" width="5" height="129" fill="#56b4e9"/><rect x="3046" y="704" width="5" height="1032" fill="#9400d3"/><rect x="3050" y="1355" width="5" height="381" fill="#009e73"/><rect x="3054" y="1615" width="5" height="121" fill="#56b4e9"/><rect x="3065" y="640" width="5" height="1096" fill="#9400d3"/><rect x="3069" y="1298" width="5" height="438" fill="#009e73"/><rect x="3073" y="1622" width="5" height="114" fill="#56b4e9"/><rect x="3084" y="538" width="5" height="1198" fill="#9400d3"/><rect x="3088" y="1207" width="5" height="529" fill="#009e73"/><rect x="3092" y="1633" width="4" height="103" fill="#56b4e9"/><rect x="3103" y="577" width="5" height="1159" fill="#9400d3"/><rect x="3107" y="1264" width="4" height="472" fill="#009e73"/><rect x="3110" y="1651" width="5" height="85" fill="#56b4e9"/><rect x="3122" y="363" width="5" height="1373" fill="#9400d3"/><rect x="3126" y="1069" width="4" height="667" fill="#009e73"/><rect x="3129" y="1668" width="5" height="68" fill="#56b4e9"/><rect x="3141" y="574" width="4" height="1162" fill="#9400d3"/><rect x="3144" y="1298" width="5" height="438" fill="#009e73"/><rect x="3148" y="1686" width="5" height="50" fill="#56b4e9"/><rect x="3159" y="631" width="5" height="1105" fill="#9400d3"/><rect x="3163" y="1355" width="5" height="381" fill="#009e73"/><rect x="3167" y="1687" width="5" height="49" fill="#56b4e9"/>
<rect x="3136" y="48" width="39" height="11" fill="#9400d3"/>
<text x="3131" y="56" text-anchor="end">Not Spam</text>
<rect x="3136" y="70" width="39" height="11" fill="#009e73"/>
<text x="3131" y="78" text-anchor="end">Spam</text>
<rect x="3136" y="92" width="39" height="11" fill="#56b4e9"/>
<text x="3131" y="100" text-anchor="end">Score (0..1)</text>
<path class="t" d="M55.5 24.5 H3184.5 V1735.5 H55.5 Z"/>
<text x="1619" y="15" text-anchor="middle" xml:space="preserve">RBL Statistics - Tue Sep  9 12:58:18 EDT 2025 - Useless</text>
<text transform="translate(10,881) rotate(-90)" text-anchor="middle">Message Count or Spam Score</text>
<text x="50.5" y="27.0" text-anchor="end">1x10^{7}</text>
<text x="50.5" y="217.0" text-anchor="end">1x10^{6}</text>
<text x="50.5" y="407.0" text-anchor="end">100000</text>
<text x="50.5" y="597.0" text-anchor="end">10000</text>
<text x="50.5" y="787.0" text-anchor="end">1000</text>
<text x="50.5" y="978.0" text-anchor="end">100</text>
<text x="50.5" y="1168.0" text-anchor="end">10</text>
<text x="50.5" y="1358.0" text-anchor="end">1</text>
<text x="50.5" y="1548.0" text-anchor="end">0.1</text>
<text x="50.5" y="1738.0" text-anchor="end">0.01</text>
<g text-anchor="middle"><text x="74.5" y="1746">2@</text><text x="74.5" y="1754">zen.</text><text x="74.5" y="1762">spamhaus.</text><text x="74.5" y="1770">org</text><text x="74.5" y="1778">4 hops</text><text x="93.5" y="1746">2@</text><text x="93.5" y="1754">bl.</text><text x="93.5" y="1762">spamcop.</text><text x="93.5" y="1770">net</text><text x="93.5" y="1778">origin</text><text x="112.5" y="1746">9@</text><text x="112.5" y="1754">zen.</text><text x="112.5" y="1762">spamhaus.</text><text x="112.5" y="1770">org</text><text x="112.5" y="1778">1 hop</text><text x="130.5" y="1746">2@</text><text x="130.5" y="1754">zen.</text><text x="130.5" y="1762">spamhaus.</text><text x="130.5" y="1770">org</text><text x="130.5" y="1778">3 hops</text><text x="149.5" y="1746">2@</text><text x="149.5" y="1754">zen.</text><text x="149.5" y="1762">spamhaus.</text><text x="149.5" y="1770">org</text><text x="149.5" y="1778">2 hops</text><text x="168.5" y="1746">8@</text><text x="168.5" y="1754">Y.</text><text x="168.5" y="1762">list.</text><text x="168.5" y="1770">dnswl.</text><text x="168.5" y="1778">org</text><text x="168.5" y="1786">2 hops</text><text x="187.5" y="1746">2@</text><text x="187.5" y="1754">zen.</text><text x="187.5" y="1762">spamhaus.</text><text x="187.5" y="1770">org</text><text x="187.5" y="1778">1 hop</text><text x="206.5" y="1746">2@</text><text x="206.5" y="1754">dnsbl-1.</text><text x="206.5" y="1762">uceprotect.</text><text x="206.5" y="1770">net</text><text x="206.5" y="1778">2 hops</text><text x="225.5" y="1746">2@</text><text x="225.5" y="1754">dnsbl-2.</text><text x="225.5" y="1762">uceprotect.</text><text x="225.5" y="1770">net</text><text x="225.5" y="1778">1 hop</text><text x="243.5" y="1746">2@</text><text x="243.5" y="1754">bl.</text><text x="243.5" y="1762">spamcop.</text><text x="243.5" y="1770">net</text><text x="243.5" y="1778">3 hops</text><text x="262.5" y="1746">2@</text><text x="262.5" y="1754">psbl.</text><text x="262.5" y="1762">surriel.</text><text x="262.5" y="1770">com</text><text x="262.5" y="1778">1 hop</text><text x="281.5" y="1746">2@</text><text x="281.5" y="1754">dnsbl-3.</text><text x="281.5" y="1762">uceprotect.</text><text x="281.5" y="1770">net</text><text x="281.5" y="1778">5 hops</text><text x="300.5" y="1746">4@</text><text x="300.5" y="1754">zen.</text><text x="300.5" y="1762">spamhaus.</text><text x="300.5" y="1770">org</text><text x="300.5" y="1778">1 hop</text><text x="319.5" y="1746">2@</text><text x="319.5" y="1754">bl.</text><text x="319.5" y="1762">spamcop.</text><text x="319.5" y="1770">net</text><text x="319.5" y="1778">1 hop</text><text x="338.5" y="1746">3@</text><text x="338.5" y="1754">zen.</text><text x="338.5" y="1762">spamhaus.</text><text x="338.5" y="1770">org</text><text x="338.5" y="1778">1 hop</text><text x="357.5" y="1746">2@</text><text x="357.5" y="1754">dnsbl-3.</text><text x="357.5" y="1762">uceprotect.</text><text x="357.5" y="1770">net</text><text x="357.5" y="1778">4 hops</text><text x="375.5" y="1746">4@</text><text x="375.5" y="1754">zen.</text><text x="375.5" y="1762">spamhaus.</text><text x="375.5" y="1770">org</text><text x="375.5" y="1778">1 hop</text><text x="394.5" y="1746">3@</text><text x="394.5" y="1754">zen.</text><text x="394.5" y="1762">spamhaus.</text><text x="394.5" y="1770">org</text><text x="394.5" y="1778">3 hops</text><text x="413.5" y="1746">8@</text><text x="413.5" y="1754">Y.</text><text x="413.5" y="1762">list.</text><text x="413.5" y="1770">dnswl.</text><text x="413.5" y="1778">org</text><text x="413.5" y="1786">1 hop</text><text x="432.5" y="1746">8@</text><text x="432.5" y="1754">2.</text><text x="432.5" y="1762">list.</text><text x="432.5" y="1770">dnswl.</text><text x="432.5" y="1778">org</text><text x="432.5" y="1786">2 hops</text><text x="451.5" y="1746">2@</text><text x="451.5" y="1754">bl.</text><text x="451.5" y="1762">spamcop.</text><text x="451.5" y="1770">net</text><text x="451.5" y="1778">2 hops</text><text x="470.5" y="1746">2@</text><text x="470.5" y="1754">ips.</text><text x="470.5" y="1762">backscatterer.</text><text x="470.5" y="1770">org</text><text x="470.5" y="1778">origin</text><text x="489.5" y="1746">2@</text><text x="489.5" y="1754">dnsbl-2.</text><text x="489.5" y="1762">uceprotect.</text><text x="489.5" y="1770">net</text><text x="489.5" y="1778">1 hop</text><text x="507.5" y="1746">3@</text><text x="507.5" y="1754">zen.</text><text x="507.5" y="1762">spamhaus.</text><text x="507.5" y="1770">org</text><text x="507.5" y="1778">4 hops</text><text x="526.5" y="1746">6@</text><text x="526.5" y="1754">2.</text><text x="526.5" y="1762">list.</text><text x="526.5" y="1770">dnswl.</text><text x="526.5" y="1778">org</text><text x="526.5" y="1786">origin</text><text x="545.5" y="1746">6@</text><text x="545.5" y="1754">Y.</text><text x="545.5" y="1762">list.</text><text x="545.5" y="1770">dnswl.</text><text x="545.5" y="1778">org</text><text x="545.5" y="1786">origin</text><text x="564.5" y="1746">4@</text><text x="564.5" y="1754">zen.</text><text x="564.5" y="1762">spamhaus.</text><text x="564.5" y="1770">org</text><text x="564.5" y="1778">5 hops</text><text x="583.5" y="1746">4@</text><text x="583.5" y="1754">zen.</text><text x="583.5" y="1762">spamhaus.</text><text x="583.5" y="1770">org</text><text x="583.5" y="1778">2 hops</text><text x="602.5" y="1746">2@</text><text x="602.5" y="1754">dnsbl-2.</text><text x="602.5" y="1762">uceprotect.</text><text x="602.5" y="1770">net</text><text x="602.5" y="1778">3 hops</text><text x="620.5" y="1746">11@</text><text x="620.5" y="1754">Y.</text><text x="620.5" y="1762">list.</text><text x="620.5" y="1770">dnswl.</text><text x="620.5" y="1778">org</text><text x="620.5" y="1786">origin</text><text x="639.5" y="1746">15@</text><text x="639.5" y="1754">0.</text><text x="639.5" y="1762">list.</text><text x="639.5" y="1770">dnswl.</text><text x="639.5" y="1778">org</text><text x="639.5" y="1786">origin</text><text x="658.5" y="1746">15@</text><text x="658.5" y="1754">Y.</text><text x="658.5" y="1762">list.</text><text x="658.5" y="1770">dnswl.</text><text x="658.5" y="1778">org</text><text x="658.5" y="1786">origin</text><text x="677.5" y="1746">11@</text><text x="677.5" y="1754">2.</text><text x="677.5" y="1762">list.</text><text x="677.5" y="1770">dnswl.</text><text x="677.5" y="1778">org</text><text x="677.5" y="1786">origin</text><text x="696.5" y="1746">10@</text><text x="696.5" y="1754">zen.</text><text x="696.5" y="1762">spamhaus.</text><text x="696.5" y="1770">org</text><text x="696.5" y="1778">5 hops</text><text x="715.5" y="1746">15@</text><text x="715.5" y="1754">0.</text><text x="715.5" y="1762">list.</text><text x="715.5" y="1770">dnswl.</text><text x="715.5" y="1778">org</text><text x="715.5" y="1786">1 hop</text><text x="734.5" y="1746">15@</text><text x="734.5" y="1754">Y.</text><text x="734.5" y="1762">list.</text><text x="734.5" y="1770">dnswl.</text><text x="734.5" y="1778">org</text><text x="734.5" y="1786">1 hop</text><text x="752.5" y="1746">2@</text><text x="752.5" y="1754">dnsbl-3.</text><text x="752.5" y="1762">uceprotect.</text><text x="752.5" y="1770">net</text><text x="752.5" y="1778">5 hops</text><text x="771.5" y="1746">11@</text><text x="771.5" y="1754">0.</text><text x="771.5" y="1762">list.</text><text x="771.5" y="1770">dnswl.</text><text x="771.5" y="1778">org</text><text x="771.5" y="1786">1 hop</text><text x="790.5" y="1746">6@</text><text x="790.5" y="1754">Y.</text><text x="790.5" y="1762">list.</text><text x="790.5" y="1770">dnswl.</text><text x="790.5" y="1778">org</text><text x="790.5" y="1786">4 hops</text><text x="809.5" y="1746">11@</text><text x="809.5" y="1754">1.</text><text x="809.5" y="1762">list.</text><text x="809.5" y="1770">dnswl.</text><text x="809.5" y="1778">org</text><text x="809.5" y="1786">3 hops</text><text x="828.5" y="1746">5@</text><text x="828.5" y="1754">Y.</text><text x="828.5" y="1762">list.</text><text x="828.5" y="1770">dnswl.</text><text x="828.5" y="1778">org</text><text x="828.5" y="1786">origin</text><text x="847.5" y="1746">5@</text><text x="847.5" y="1754">0.</text><text x="847.5" y="1762">list.</text><text x="847.5" y="1770">dnswl.</text><text x="847.5" y="1778">org</text><text x="847.5" y="1786">origin</text><text x="866.5" y="1746">5@</text><text x="866.5" y="1754">Y.</text><text x="866.5" y="1762">list.</text><text x="866.5" y="1770">dnswl.</text><text x="866.5" y="1778">org</text><text x="866.5" y="1786">5 hops</text><text x="884.5" y="1746">2@</text><text x="884.5" y="1754">dnsbl-2.</text><text x="884.5" y="1762">uceprotect.</text><text x="884.5" y="1770">net</text><text x="884.5" y="1778">4 hops</text><text x="903.5" y="1746">3@</text><text x="903.5" y="1754">zen.</text><text x="903.5" y="1762">spamhaus.</text><text x="903.5" y="1770">org</text><text x="903.5" y="1778">2 hops</text><text x="922.5" y="1746">11@</text><text x="922.5" y="1754">0.</text><text x="922.5" y="1762">list.</text><text x="922.5" y="1770">dnswl.</text><text x="922.5" y="1778">org</text><text x="922.5" y="1786">2 hops</text><text x="941.5" y="1746">11@</text><text x="941.5" y="1754">zen.</text><text x="941.5" y="1762">spamhaus.</text><text x="941.5" y="1770">org</text><text x="941.5" y="1778">1 hop</text><text x="960.5" y="1746">3@</text><text x="960.5" y="1754">1.</text><text x="960.5" y="1762">list.</text><text x="960.5" y="1770">dnswl.</text><text x="960.5" y="1778">org</text><text x="960.5" y="1786">4 hops</text><text x="979.5" y="1746">3@</text><text x="979.5" y="1754">0.</text><text x="979.5" y="1762">list.</text><text x="979.5" y="1770">dnswl.</text><text x="979.5" y="1778">org</text><text x="979.5" y="1786">origin</text><text x="997.5" y="1746">3@</text><text x="997.5" y="1754">Y.</text><text x="997.5" y="1762">list.</text><text x="997.5" y="1770">dnswl.</text><text x="997.5" y="1778">org</text><text x="997.5" y="1786">origin</text><text x="1016.5" y="1746">2@</text><text x="1016.5" y="1754">dnsbl-3.</text><text x="1016.5" y="1762">uceprotect.</text><text x="1016.5" y="1770">net</text><text x="1016.5" y="1778">origin</text><text x="1035.5" y="1746">11@</text><text x="1035.5" y="1754">1.</text><text x="1035.5" y="1762">list.</text><text x="1035.5" y="1770">dnswl.</text><text x="1035.5" y="1778">org</text><text x="1035.5" y="1786">1 hop</text><text x="1054.5" y="1746">2@</text><text x="1054.5" y="1754">dnsbl-1.</text><text x="1054.5" y="1762">uceprotect.</text><text x="1054.5" y="1770">net</text><text x="1054.5" y="1778">5 hops</text><text x="1073.5" y="1746">2@</text><text x="1073.5" y="1754">psbl.</text><text x="1073.5" y="1762">surriel.</text><text x="1073.5" y="1770">com</text><text x="1073.5" y="1778">2 hops</text><text x="1092.5" y="1746">2@</text><text x="1092.5" y="1754">dnsbl-3.</text><text x="1092.5" y="1762">uceprotect.</text><text x="1092.5" y="1770">net</text><text x="1092.5" y="1778">1 hop</text><text x="1111.5" y="1746">4@</text><text x="1111.5" y="1754">2.</text><text x="1111.5" y="1762">list.</text><text x="1111.5" y="1770">dnswl.</text><text x="1111.5" y="1778">org</text><text x="1111.5" y="1786">origin</text><text x="1129.5" y="1746">2@</text><text x="1129.5" y="1754">dnsbl-1.</text><text x="1129.5" y="1762">uceprotect.</text><text x="1129.5" y="1770">net</text><text x="1129.5" y="1778">3 hops</text><text x="1148.5" y="1746">2@</text><text x="1148.5" y="1754">dnsbl-2.</text><text x="1148.5" y="1762">uceprotect.</text><text x="1148.5" y="1770">net</text><text x="1148.5" y="1778">4 hops</text><text x="1167.5" y="1746">11@</text><text x="1167.5" y="1754">Y.</text><text x="1167.5" y="1762">list.</text><text x="1167.5" y="1770">dnswl.</text><text x="1167.5" y="1778">org</text><text x="1167.5" y="1786">1 hop</text><text x="1186.5" y="1746">2@</text><text x="1186.5" y="1754">dnsbl-3.</text><text x="1186.5" y="1762">uceprotect.</text><text x="1186.5" y="1770">net</text><text x="1186.5" y="1778">4 hops</text><text x="1205.5" y="1746">11@</text><text x="1205.5" y="1754">2.</text><text x="1205.5" y="1762">list.</text><text x="1205.5" y="1770">dnswl.</text><text x="1205.5" y="1778">org</text><text x="1205.5" y="1786">1 hop</text><text x="1224.5" y="1746">2@</text><text x="1224.5" y="1754">ips.</text><text x="1224.5" y="1762">backscatterer.</text><text x="1224.5" y="1770">org</text><text x="1224.5" y="1778">1 hop</text><text x="1243.5" y="1746">3@</text><text x="1243.5" y="1754">Y.</text><text x="1243.5" y="1762">list.</text><text x="1243.5" y="1770">dnswl.</text><text x="1243.5" y="1778">org</text><text x="1243.5" y="1786">5 hops</text><text x="1261.5" y="1746">2@</text><text x="1261.5" y="1754">psbl.</text><text x="1261.5" y="1762">surriel.</text><text x="1261.5" y="1770">com</text><text x="1261.5" y="1778">4 hops</text><text x="1280.5" y="1746">none</text><text x="1280.5" y="1754">origin</text><text x="1299.5" y="1746">4@</text><text x="1299.5" y="1754">3.</text><text x="1299.5" y="1762">list.</text><text x="1299.5" y="1770">dnswl.</text><text x="1299.5" y="1778">org</text><text x="1299.5" y="1786">1 hop</text><text x="1318.5" y="1746">11@</text><text x="1318.5" y="1754">zen.</text><text x="1318.5" y="1762">spamhaus.</text><text x="1318.5" y="1770">org</text><text x="1318.5" y="1778">2 hops</text><text x="1337.5" y="1746">2@</text><text x="1337.5" y="1754">ips.</text><text x="1337.5" y="1762">backscatterer.</text><text x="1337.5" y="1770">org</text><text x="1337.5" y="1778">1 hop</text><text x="1356.5" y="1746">2@</text><text x="1356.5" y="1754">list.</text><text x="1356.5" y="1762">dnswl.</text><text x="1356.5" y="1770">org</text><text x="1356.5" y="1778">4 hops</text><text x="1374.5" y="1746">4@</text><text x="1374.5" y="1754">Y.</text><text x="1374.5" y="1762">list.</text><text x="1374.5" y="1770">dnswl.</text><text x="1374.5" y="1778">org</text><text x="1374.5" y="1786">1 hop</text><text x="1393.5" y="1746">3@</text><text x="1393.5" y="1754">0.</text><text x="1393.5" y="1762">list.</text><text x="1393.5" y="1770">dnswl.</text><text x="1393.5" y="1778">org</text><text x="1393.5" y="1786">1 hop</text><text x="1412.5" y="1746">4@</text><text x="1412.5" y="1754">2.</text><text x="1412.5" y="1762">list.</text><text x="1412.5" y="1770">dnswl.</text><text x="1412.5" y="1778">org</text><text x="1412.5" y="1786">1 hop</text><text x="1431.5" y="1746">none</text><text x="1431.5" y="1754">1 hop</text><text x="1450.5" y="1746">20@</text><text x="1450.5" y="1754">0.</text><text x="1450.5" y="1762">list.</text><text x="1450.5" y="1770">dnswl.</text><text x="1450.5" y="1778">org</text><text x="1450.5" y="1786">1 hop</text><text x="1469.5" y="1746">20@</text><text x="1469.5" y="1754">Y.</text><text x="1469.5" y="1762">list.</text><text x="1469.5" y="1770">dnswl.</text><text x="1469.5" y="1778">org</text><text x="1469.5" y="1786">1 hop</text><text x="1488.5" y="1746">10@</text><text x="1488.5" y="1754">zen.</text><text x="1488.5" y="1762">spamhaus.</text><text x="1488.5" y="1770">org</text><text x="1488.5" y="1778">1 hop</text><text x="1506.5" y="1746">10@</text><text x="1506.5" y="1754">0.</text><text x="1506.5" y="1762">list.</text><text x="1506.5" y="1770">dnswl.</text><text x="1506.5" y="1778">org</text><text x="1506.5" y="1786">1 hop</text><text x="1525.5" y="1746">10@</text><text x="1525.5" y="1754">Y.</text><text x="1525.5" y="1762">list.</text><text x="1525.5" y="1770">dnswl.</text><text x="1525.5" y="1778">org</text><text x="1525.5" y="1786">3 hops</text><text x="1544.5" y="1746">5@</text><text x="1544.5" y="1754">0.</text><text x="1544.5" y="1762">list.</text><text x="1544.5" y="1770">dnswl.</text><text x="1544.5" y="1778">org</text><text x="1544.5" y="1786">4 hops</text><text x="1563.5" y="1746">9@</text><text x="1563.5" y="1754">2.</text><text x="1563.5" y="1762">list.</text><text x="1563.5" y="1770">dnswl.</text><text x="1563.5" y="1778">org</text><text x="1563.5" y="1786">4 hops</text><text x="1582.5" y="1746">2@</text><text x="1582.5" y="1754">ips.</text><text x="1582.5" y="1762">whitelisted.</text><text x="1582.5" y="1770">org</text><text x="1582.5" y="1778">4 hops</text><text x="1601.5" y="1746">11@</text><text x="1601.5" y="1754">Y.</text><text x="1601.5" y="1762">list.</text><text x="1601.5" y="1770">dnswl.</text><text x="1601.5" y="1778">org</text><text x="1601.5" y="1786">2 hops</text><text x="1620.5" y="1746">none</text><text x="1620.5" y="1754">5 hops</text><text x="1638.5" y="1746">5@</text><text x="1638.5" y="1754">Y.</text><text x="1638.5" y="1762">list.</text><text x="1638.5" y="1770">dnswl.</text><text x="1638.5" y="1778">org</text><text x="1638.5" y="1786">4 hops</text><text x="1657.5" y="1746">3@</text><text x="1657.5" y="1754">Y.</text><text x="1657.5" y="1762">list.</text><text x="1657.5" y="1770">dnswl.</text><text x="1657.5" y="1778">org</text><text x="1657.5" y="1786">1 hop</text><text x="1676.5" y="1746">2@</text><text x="1676.5" y="1754">ips.</text><text x="1676.5" y="1762">whitelisted.</text><text x="1676.5" y="1770">org</text><text x="1676.5" y="1778">origin</text><text x="1695.5" y="1746">9@</text><text x="1695.5" y="1754">Y.</text><text x="1695.5" y="1762">list.</text><text x="1695.5" y="1770">dnswl.</text><text x="1695.5" y="1778">org</text><text x="1695.5" y="1786">4 hops</text><text x="1714.5" y="1746">3@</text><text x="1714.5" y="1754">1.</text><text x="1714.5" y="1762">list.</text><text x="1714.5" y="1770">dnswl.</text><text x="1714.5" y="1778">org</text><text x="1714.5" y="1786">3 hops</text><text x="1733.5" y="1746">1@</text><text x="1733.5" y="1754">list.</text><text x="1733.5" y="1762">dnswl.</text><text x="1733.5" y="1770">org</text><text x="1733.5" y="1778">4 hops</text><text x="1751.5" y="1746">none</text><text x="1751.5" y="1754">4 hops</text><text x="1770.5" y="1746">0@</text><text x="1770.5" y="1754">list.</text><text x="1770.5" y="1762">dnswl.</text><text x="1770.5" y="1770">org</text><text x="1770.5" y="1778">1 hop</text><text x="1789.5" y="1746">5@</text><text x="1789.5" y="1754">1.</text><text x="1789.5" y="1762">list.</text><text x="1789.5" y="1770">dnswl.</text><text x="1789.5" y="1778">org</text><text x="1789.5" y="1786">1 hop</text><text x="1808.5" y="1746">3@</text><text x="1808.5" y="1754">list.</text><text x="1808.5" y="1762">dnswl.</text><text x="1808.5" y="1770">org</text><text x="1808.5" y="1778">origin</text><text x="1827.5" y="1746">9@</text><text x="1827.5" y="1754">3.</text><text x="1827.5" y="1762">list.</text><text x="1827.5" y="1770">dnswl.</text><text x="1827.5" y="1778">org</text><text x="1827.5" y="1786">origin</text><text x="1846.5" y="1746">10@</text><text x="1846.5" y="1754">zen.</text><text x="1846.5" y="1762">spamhaus.</text><text x="1846.5" y="1770">org</text><text x="1846.5" y="1778">2 hops</text><text x="1865.5" y="1746">11@</text><text x="1865.5" y="1754">2.</text><text x="1865.5" y="1762">list.</text><text x="1865.5" y="1770">dnswl.</text><text x="1865.5" y="1778">org</text><text x="1865.5" y="1786">2 hops</text><text x="1883.5" y="1746">2@</text><text x="1883.5" y="1754">ips.</text><text x="1883.5" y="1762">backscatterer.</text><text x="1883.5" y="1770">org</text><text x="1883.5" y="1778">3 hops</text><text x="1902.5" y="1746">11@</text><text x="1902.5" y="1754">zen.</text><text x="1902.5" y="1762">spamhaus.</text><text x="1902.5" y="1770">org</text><text x="1902.5" y="1778">2 hops</text><text x="1921.5" y="1746">5@</text><text x="1921.5" y="1754">Y.</text><text x="1921.5" y="1762">list.</text><text x="1921.5" y="1770">dnswl.</text><text x="1921.5" y="1778">org</text><text x="1921.5" y="1786">1 hop</text><text x="1940.5" y="1746">none</text><text x="1940.5" y="1754">3 hops</text><text x="1959.5" y="1746">3@</text><text x="1959.5" y="1754">1.</text><text x="1959.5" y="1762">list.</text><text x="1959.5" y="1770">dnswl.</text><text x="1959.5" y="1778">org</text><text x="1959.5" y="1786">1 hop</text><text x="1978.5" y="1746">2@</text><text x="1978.5" y="1754">ips.</text><text x="1978.5" y="1762">whitelisted.</text><text x="1978.5" y="1770">org</text><text x="1978.5" y="1778">2 hops</text><text x="1996.5" y="1746">5@</text><text x="1996.5" y="1754">1.</text><text x="1996.5" y="1762">list.</text><text x="1996.5" y="1770">dnswl.</text><text x="1996.5" y="1778">org</text><text x="1996.5" y="1786">4 hops</text><text x="2015.5" y="1746">3@</text><text x="2015.5" y="1754">list.</text><text x="2015.5" y="1762">dnswl.</text><text x="2015.5" y="1770">org</text><text x="2015.5" y="1778">1 hop</text><text x="2034.5" y="1746">1@</text><text x="2034.5" y="1754">list.</text><text x="2034.5" y="1762">dnswl.</text><text x="2034.5" y="1770">org</text><text x="2034.5" y="1778">1 hop</text><text x="2053.5" y="1746">5@</text><text x="2053.5" y="1754">0.</text><text x="2053.5" y="1762">list.</text><text x="2053.5" y="1770">dnswl.</text><text x="2053.5" y="1778">org</text><text x="2053.5" y="1786">1 hop</text><text x="2072.5" y="1746">0@</text><text x="2072.5" y="1754">list.</text><text x="2072.5" y="1762">dnswl.</text><text x="2072.5" y="1770">org</text><text x="2072.5" y="1778">origin</text><text x="2091.5" y="1746">14@</text><text x="2091.5" y="1754">2.</text><text x="2091.5" y="1762">list.</text><text x="2091.5" y="1770">dnswl.</text><text x="2091.5" y="1778">org</text><text x="2091.5" y="1786">1 hop</text><text x="2110.5" y="1746">5@</text><text x="2110.5" y="1754">1.</text><text x="2110.5" y="1762">list.</text><text x="2110.5" y="1770">dnswl.</text><text x="2110.5" y="1778">org</text><text x="2110.5" y="1786">3 hops</text><text x="2128.5" y="1746">none</text><text x="2128.5" y="1754">2 hops</text><text x="2147.5" y="1746">14@</text><text x="2147.5" y="1754">Y.</text><text x="2147.5" y="1762">list.</text><text x="2147.5" y="1770">dnswl.</text><text x="2147.5" y="1778">org</text><text x="2147.5" y="1786">1 hop</text><text x="2166.5" y="1746">4@</text><text x="2166.5" y="1754">Y.</text><text x="2166.5" y="1762">list.</text><text x="2166.5" y="1770">dnswl.</text><text x="2166.5" y="1778">org</text><text x="2166.5" y="1786">origin</text><text x="2185.5" y="1746">11@</text><text x="2185.5" y="1754">zen.</text><text x="2185.5" y="1762">spamhaus.</text><text x="2185.5" y="1770">org</text><text x="2185.5" y="1778">5 hops</text><text x="2204.5" y="1746">11@</text><text x="2204.5" y="1754">zen.</text><text x="2204.5" y="1762">spamhaus.</text><text x="2204.5" y="1770">org</text><text x="2204.5" y="1778">4 hops</text><text x="2223.5" y="1746">1@</text><text x="2223.5" y="1754">list.</text><text x="2223.5" y="1762">dnswl.</text><text x="2223.5" y="1770">org</text><text x="2223.5" y="1778">3 hops</text><text x="2242.5" y="1746">1@</text><text x="2242.5" y="1754">list.</text><text x="2242.5" y="1762">dnswl.</text><text x="2242.5" y="1770">org</text><text x="2242.5" y="1778">origin</text><text x="2260.5" y="1746">11@</text><text x="2260.5" y="1754">Y.</text><text x="2260.5" y="1762">list.</text><text x="2260.5" y="1770">dnswl.</text><text x="2260.5" y="1778">org</text><text x="2260.5" y="1786">3 hops</text><text x="2279.5" y="1746">15@</text><text x="2279.5" y="1754">0.</text><text x="2279.5" y="1762">list.</text><text x="2279.5" y="1770">dnswl.</text><text x="2279.5" y="1778">org</text><text x="2279.5" y="1786">2 hops</text><text x="2298.5" y="1746">9@</text><text x="2298.5" y="1754">Y.</text><text x="2298.5" y="1762">list.</text><text x="2298.5" y="1770">dnswl.</text><text x="2298.5" y="1778">org</text><text x="2298.5" y="1786">origin</text><text x="2317.5" y="1746">10@</text><text x="2317.5" y="1754">zen.</text><text x="2317.5" y="1762">spamhaus.</text><text x="2317.5" y="1770">org</text><text x="2317.5" y="1778">5 hops</text><text x="2336.5" y="1746">5@</text><text x="2336.5" y="1754">2.</text><text x="2336.5" y="1762">list.</text><text x="2336.5" y="1770">dnswl.</text><text x="2336.5" y="1778">org</text><text x="2336.5" y="1786">2 hops</text><text x="2355.5" y="1746">11@</text><text x="2355.5" y="1754">zen.</text><text x="2355.5" y="1762">spamhaus.</text><text x="2355.5" y="1770">org</text><text x="2355.5" y="1778">5 hops</text><text x="2373.5" y="1746">15@</text><text x="2373.5" y="1754">Y.</text><text x="2373.5" y="1762">list.</text><text x="2373.5" y="1770">dnswl.</text><text x="2373.5" y="1778">org</text><text x="2373.5" y="1786">2 hops</text><text x="2392.5" y="1746">5@</text><text x="2392.5" y="1754">1.</text><text x="2392.5" y="1762">list.</text><text x="2392.5" y="1770">dnswl.</text><text x="2392.5" y="1778">org</text><text x="2392.5" y="1786">3 hops</text><text x="2411.5" y="1746">13@</text><text x="2411.5" y="1754">Y.</text><text x="2411.5" y="1762">list.</text><text x="2411.5" y="1770">dnswl.</text><text x="2411.5" y="1778">org</text><text x="2411.5" y="1786">1 hop</text><text x="2430.5" y="1746">9@</text><text x="2430.5" y="1754">1.</text><text x="2430.5" y="1762">list.</text><text x="2430.5" y="1770">dnswl.</text><text x="2430.5" y="1778">org</text><text x="2430.5" y="1786">origin</text><text x="2449.5" y="1746">2@</text><text x="2449.5" y="1754">list.</text><text x="2449.5" y="1762">dnswl.</text><text x="2449.5" y="1770">org</text><text x="2449.5" y="1778">origin</text><text x="2468.5" y="1746">10@</text><text x="2468.5" y="1754">0.</text><text x="2468.5" y="1762">list.</text><text x="2468.5" y="1770">dnswl.</text><text x="2468.5" y="1778">org</text><text x="2468.5" y="1786">origin</text><text x="2487.5" y="1746">10@</text><text x="2487.5" y="1754">Y.</text><text x="2487.5" y="1762">list.</text><text x="2487.5" y="1770">dnswl.</text><text x="2487.5" y="1778">org</text><text x="2487.5" y="1786">origin</text><text x="2505.5" y="1746">10@</text><text x="2505.5" y="1754">zen.</text><text x="2505.5" y="1762">spamhaus.</text><text x="2505.5" y="1770">org</text><text x="2505.5" y="1778">4 hops</text><text x="2524.5" y="1746">6@</text><text x="2524.5" y="1754">2.</text><text x="2524.5" y="1762">list.</text><text x="2524.5" y="1770">dnswl.</text><text x="2524.5" y="1778">org</text><text x="2524.5" y="1786">1 hop</text><text x="2543.5" y="1746">9@</text><text x="2543.5" y="1754">2.</text><text x="2543.5" y="1762">list.</text><text x="2543.5" y="1770">dnswl.</text><text x="2543.5" y="1778">org</text><text x="2543.5" y="1786">origin</text><text x="2562.5" y="1746">3@</text><text x="2562.5" y="1754">2.</text><text x="2562.5" y="1762">list.</text><text x="2562.5" y="1770">dnswl.</text><text x="2562.5" y="1778">org</text><text x="2562.5" y="1786">1 hop</text><text x="2581.5" y="1746">6@</text><text x="2581.5" y="1754">Y.</text><text x="2581.5" y="1762">list.</text><text x="2581.5" y="1770">dnswl.</text><text x="2581.5" y="1778">org</text><text x="2581.5" y="1786">2 hops</text><text x="2600.5" y="1746">5@</text><text x="2600.5" y="1754">Y.</text><text x="2600.5" y="1762">list.</text><text x="2600.5" y="1770">dnswl.</text><text x="2600.5" y="1778">org</text><text x="2600.5" y="1786">2 hops</text><text x="2619.5" y="1746">3@</text><text x="2619.5" y="1754">0.</text><text x="2619.5" y="1762">list.</text><text x="2619.5" y="1770">dnswl.</text><text x="2619.5" y="1778">org</text><text x="2619.5" y="1786">3 hops</text><text x="2637.5" y="1746">0@</text><text x="2637.5" y="1754">list.</text><text x="2637.5" y="1762">dnswl.</text><text x="2637.5" y="1770">org</text><text x="2637.5" y="1778">3 hops</text><text x="2656.5" y="1746">3@</text><text x="2656.5" y="1754">Y.</text><text x="2656.5" y="1762">list.</text><text x="2656.5" y="1770">dnswl.</text><text x="2656.5" y="1778">org</text><text x="2656.5" y="1786">3 hops</text><text x="2675.5" y="1746">5@</text><text x="2675.5" y="1754">0.</text><text x="2675.5" y="1762">list.</text><text x="2675.5" y="1770">dnswl.</text><text x="2675.5" y="1778">org</text><text x="2675.5" y="1786">3 hops</text><text x="2694.5" y="1746">1@</text><text x="2694.5" y="1754">list.</text><text x="2694.5" y="1762">dnswl.</text><text x="2694.5" y="1770">org</text><text x="2694.5" y="1778">2 hops</text><text x="2713.5" y="1746">9@</text><text x="2713.5" y="1754">0.</text><text x="2713.5" y="1762">list.</text><text x="2713.5" y="1770">dnswl.</text><text x="2713.5" y="1778">org</text><text x="2713.5" y="1786">origin</text><text x="2732.5" y="1746">3@</text><text x="2732.5" y="1754">Y.</text><text x="2732.5" y="1762">list.</text><text x="2732.5" y="1770">dnswl.</text><text x="2732.5" y="1778">org</text><text x="2732.5" y="1786">2 hops</text><text x="2750.5" y="1746">2@</text><text x="2750.5" y="1754">psbl.</text><text x="2750.5" y="1762">surriel.</text><text x="2750.5" y="1770">com</text><text x="2750.5" y="1778">3 hops</text><text x="2769.5" y="1746">14@</text><text x="2769.5" y="1754">2.</text><text x="2769.5" y="1762">list.</text><text x="2769.5" y="1770">dnswl.</text><text x="2769.5" y="1778">org</text><text x="2769.5" y="1786">2 hops</text><text x="2788.5" y="1746">3@</text><text x="2788.5" y="1754">0.</text><text x="2788.5" y="1762">list.</text><text x="2788.5" y="1770">dnswl.</text><text x="2788.5" y="1778">org</text><text x="2788.5" y="1786">3 hops</text><text x="2807.5" y="1746">0@</text><text x="2807.5" y="1754">list.</text><text x="2807.5" y="1762">dnswl.</text><text x="2807.5" y="1770">org</text><text x="2807.5" y="1778">4 hops</text><text x="2826.5" y="1746">2@</text><text x="2826.5" y="1754">ips.</text><text x="2826.5" y="1762">whitelisted.</text><text x="2826.5" y="1770">org</text><text x="2826.5" y="1778">3 hops</text><text x="2845.5" y="1746">14@</text><text x="2845.5" y="1754">Y.</text><text x="2845.5" y="1762">list.</text><text x="2845.5" y="1770">dnswl.</text><text x="2845.5" y="1778">org</text><text x="2845.5" y="1786">2 hops</text><text x="2864.5" y="1746">9@</text><text x="2864.5" y="1754">3.</text><text x="2864.5" y="1762">list.</text><text x="2864.5" y="1770">dnswl.</text><text x="2864.5" y="1778">org</text><text x="2864.5" y="1786">1 hop</text><text x="2882.5" y="1746">5@</text><text x="2882.5" y="1754">Y.</text><text x="2882.5" y="1762">list.</text><text x="2882.5" y="1770">dnswl.</text><text x="2882.5" y="1778">org</text><text x="2882.5" y="1786">3 hops</text><text x="2901.5" y="1746">2@</text><text x="2901.5" y="1754">list.</text><text x="2901.5" y="1762">dnswl.</text><text x="2901.5" y="1770">org</text><text x="2901.5" y="1778">1 hop</text><text x="2920.5" y="1746">0@</text><text x="2920.5" y="1754">list.</text><text x="2920.5" y="1762">dnswl.</text><text x="2920.5" y="1770">org</text><text x="2920.5" y="1778">2 hops</text><text x="2939.5" y="1746">6@</text><text x="2939.5" y="1754">2.</text><text x="2939.5" y="1762">list.</text><text x="2939.5" y="1770">dnswl.</text><text x="2939.5" y="1778">org</text><text x="2939.5" y="1786">2 hops</text><text x="2958.5" y="1746">9@</text><text x="2958.5" y="1754">2.</text><text x="2958.5" y="1762">list.</text><text x="2958.5" y="1770">dnswl.</text><text x="2958.5" y="1778">org</text><text x="2958.5" y="1786">1 hop</text><text x="2977.5" y="1746">9@</text><text x="2977.5" y="1754">Y.</text><text x="2977.5" y="1762">list.</text><text x="2977.5" y="1770">dnswl.</text><text x="2977.5" y="1778">org</text><text x="2977.5" y="1786">1 hop</text><text x="2996.5" y="1746">6@</text><text x="2996.5" y="1754">Y.</text><text x="2996.5" y="1762">list.</text><text x="2996.5" y="1770">dnswl.</text><text x="2996.5" y="1778">org</text><text x="2996.5" y="1786">2 hops</text><text x="3014.5" y="1746">5@</text><text x="3014.5" y="1754">0.</text><text x="3014.5" y="1762">list.</text><text x="3014.5" y="1770">dnswl.</text><text x="3014.5" y="1778">org</text><text x="3014.5" y="1786">4 hops</text><text x="3033.5" y="1746">3@</text><text x="3033.5" y="1754">1.</text><text x="3033.5" y="1762">list.</text><text x="3033.5" y="1770">dnswl.</text><text x="3033.5" y="1778">org</text><text x="3033.5" y="1786">3 hops</text><text x="3052.5" y="1746">9@</text><text x="3052.5" y="1754">1.</text><text x="3052.5" y="1762">list.</text><text x="3052.5" y="1770">dnswl.</text><text x="3052.5" y="1778">org</text><text x="3052.5" y="1786">3 hops</text><text x="3071.5" y="1746">9@</text><text x="3071.5" y="1754">0.</text><text x="3071.5" y="1762">list.</text><text x="3071.5" y="1770">dnswl.</text><text x="3071.5" y="1778">org</text><text x="3071.5" y="1786">1 hop</text><text x="3090.5" y="1746">4@</text><text x="3090.5" y="1754">2.</text><text x="3090.5" y="1762">list.</text><text x="3090.5" y="1770">dnswl.</text><text x="3090.5" y="1778">org</text><text x="3090.5" y="1786">origin</text><text x="3109.5" y="1746">2@</text><text x="3109.5" y="1754">ips.</text><text x="3109.5" y="1762">backscatterer.</text><text x="3109.5" y="1770">org</text><text x="3109.5" y="1778">5 hops</text><text x="3127.5" y="1746">2@</text><text x="3127.5" y="1754">list.</text><text x="3127.5" y="1762">dnswl.</text><text x="3127.5" y="1770">org</text><text x="3127.5" y="1778">2 hops</text><text x="3146.5" y="1746">3@</text><text x="3146.5" y="1754">Y.</text><text x="3146.5" y="1762">list.</text><text x="3146.5" y="1770">dnswl.</text><text x="3146.5" y="1778">org</text><text x="3146.5" y="1786">4 hops</text><text x="3165.5" y="1746">3@</text><text x="3165.5" y="1754">2.</text><text x="3165.5" y="1762">list.</text><text x="3165.5" y="1770">dnswl.</text><text x="3165.5" y="1778">org</text><text x="3165.5" y="1786">3 hops</text></g>
</svg></body></html>
